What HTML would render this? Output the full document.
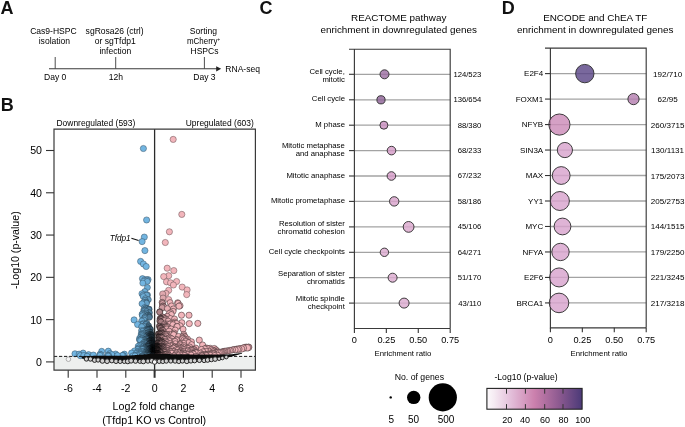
<!DOCTYPE html>
<html><head><meta charset="utf-8"><style>
html,body{margin:0;padding:0;background:#fff;}
svg{display:block;font-family:"Liberation Sans",sans-serif;}
svg{will-change:transform}
</style></head><body>
<svg width="685" height="427" viewBox="0 0 685 427">
<rect width="685" height="427" fill="#fff"/>
<defs><clipPath id="vclip"><rect x="54.0" y="129.1" width="201.4" height="241.1"/></clipPath></defs>
<text x="0.60" y="13.70" font-size="18" text-anchor="start" font-weight="bold" fill="#111">A</text>
<text x="0.70" y="111.10" font-size="18" text-anchor="start" font-weight="bold" fill="#111">B</text>
<text x="259.60" y="13.70" font-size="18" text-anchor="start" font-weight="bold" fill="#111">C</text>
<text x="501.80" y="13.70" font-size="18" text-anchor="start" font-weight="bold" fill="#111">D</text>
<text x="53.40" y="34.30" font-size="8.55" text-anchor="middle">Cas9-HSPC</text>
<text x="54.40" y="44.00" font-size="8.55" text-anchor="middle">isolation</text>
<text x="114.60" y="34.40" font-size="8.55" text-anchor="middle">sgRosa26 (ctrl)</text>
<text x="115.30" y="43.90" font-size="8.55" text-anchor="middle">or sgTfdp1</text>
<text x="115.30" y="53.60" font-size="8.55" text-anchor="middle">infection</text>
<text x="203.40" y="34.40" font-size="8.55" text-anchor="middle">Sorting</text>
<text x="187.0" y="43.9" font-size="8.55" textLength="30.4" lengthAdjust="spacingAndGlyphs">mCherry</text><text x="217.4" y="40.6" font-size="4.6">+</text>
<text x="204.50" y="53.60" font-size="8.55" text-anchor="middle">HSPCs</text>
<line x1="49.00" y1="68.80" x2="217.00" y2="68.80" stroke="#3a3a3a" stroke-width="1.05"/>
<path d="M216.2 66.2 L221.2 68.8 L216.2 71.4 Z" fill="#222"/>
<line x1="55.20" y1="57.00" x2="55.20" y2="68.80" stroke="#444" stroke-width="0.95"/>
<line x1="115.70" y1="57.00" x2="115.70" y2="68.80" stroke="#444" stroke-width="0.95"/>
<line x1="204.40" y1="57.00" x2="204.40" y2="68.80" stroke="#444" stroke-width="0.95"/>
<text x="225.30" y="71.70" font-size="8.55" text-anchor="start">RNA-seq</text>
<text x="55.20" y="80.30" font-size="8.55" text-anchor="middle">Day 0</text>
<text x="116.00" y="80.30" font-size="8.55" text-anchor="middle">12h</text>
<text x="204.40" y="80.00" font-size="8.55" text-anchor="middle">Day 3</text>
<text x="56.50" y="125.80" font-size="8.45" text-anchor="start">Downregulated (593)</text>
<text x="253.80" y="125.80" font-size="8.45" text-anchor="end">Upregulated (603)</text>
<rect x="54.0" y="356.40" width="201.4" height="13.80" fill="#edefee"/>
<line x1="154.60" y1="129.10" x2="154.60" y2="372.20" stroke="#2a2a2a" stroke-width="1.3"/>
<g stroke-width="0.55" clip-path="url(#vclip)"><circle cx="173.2" cy="139.4" r="3.1" fill="#f2b5bb" stroke="#6e5558"/><circle cx="143.4" cy="148.5" r="3.1" fill="#72b5e1" stroke="#3e5a6e"/><circle cx="181.8" cy="214.4" r="3.1" fill="#f2b5bb" stroke="#6e5558"/><circle cx="146.6" cy="220.0" r="3.1" fill="#72b5e1" stroke="#3e5a6e"/><circle cx="169.4" cy="231.8" r="3.1" fill="#f2b5bb" stroke="#6e5558"/><circle cx="144.3" cy="237.1" r="3.1" fill="#72b5e1" stroke="#3e5a6e"/><circle cx="142.1" cy="241.6" r="3.1" fill="#72b5e1" stroke="#3e5a6e"/><circle cx="165.3" cy="242.5" r="3.1" fill="#f2b5bb" stroke="#6e5558"/><circle cx="144.9" cy="250.6" r="3.1" fill="#72b5e1" stroke="#3e5a6e"/><circle cx="140.6" cy="261.4" r="3.1" fill="#72b5e1" stroke="#3e5a6e"/><circle cx="143.4" cy="264.0" r="3.1" fill="#72b5e1" stroke="#3e5a6e"/><circle cx="146.2" cy="266.5" r="3.1" fill="#72b5e1" stroke="#3e5a6e"/><circle cx="167.2" cy="268.2" r="3.1" fill="#f2b5bb" stroke="#6e5558"/><circle cx="173.8" cy="270.6" r="3.1" fill="#f2b5bb" stroke="#6e5558"/><circle cx="168.7" cy="275.7" r="3.1" fill="#f2b5bb" stroke="#6e5558"/><circle cx="163.7" cy="276.6" r="3.1" fill="#f2b5bb" stroke="#6e5558"/><circle cx="142.5" cy="278.7" r="3.1" fill="#72b5e1" stroke="#3e5a6e"/><circle cx="144.9" cy="279.6" r="3.0" fill="#72b5e1" stroke="#3e5a6e"/><circle cx="148.0" cy="279.6" r="3.1" fill="#6dadd7" stroke="#3b5568"/><circle cx="146.8" cy="279.9" r="3.0" fill="#6eafd9" stroke="#3b5669"/><circle cx="145.6" cy="280.7" r="3.0" fill="#6fb0db" stroke="#3c576a"/><circle cx="143.4" cy="281.3" r="3.0" fill="#72b5e1" stroke="#3e5a6e"/><circle cx="147.3" cy="281.4" r="3.0" fill="#6dadd7" stroke="#3b5568"/><circle cx="176.6" cy="281.5" r="3.1" fill="#f2b5bb" stroke="#6e5558"/><circle cx="166.5" cy="281.8" r="3.1" fill="#f2b5bb" stroke="#6e5558"/><circle cx="170.6" cy="282.8" r="3.1" fill="#f2b5bb" stroke="#6e5558"/><circle cx="142.8" cy="283.1" r="3.0" fill="#72b5e1" stroke="#3e5a6e"/><circle cx="173.4" cy="285.0" r="3.1" fill="#f2b5bb" stroke="#6e5558"/><circle cx="182.2" cy="287.1" r="3.1" fill="#f2b5bb" stroke="#6e5558"/><circle cx="147.4" cy="287.5" r="3.0" fill="#6baad3" stroke="#395365"/><circle cx="187.1" cy="289.9" r="3.1" fill="#f2b5bb" stroke="#6e5558"/><circle cx="168.7" cy="290.3" r="3.1" fill="#f2b5bb" stroke="#6e5558"/><circle cx="144.8" cy="291.5" r="3.0" fill="#6daed8" stroke="#3b5568"/><circle cx="165.9" cy="293.4" r="3.1" fill="#ebb0b5" stroke="#6a5255"/><circle cx="141.9" cy="293.7" r="3.0" fill="#72b5e1" stroke="#3e5a6e"/><circle cx="162.7" cy="294.0" r="3.1" fill="#e0a8ae" stroke="#644d50"/><circle cx="186.7" cy="294.6" r="3.1" fill="#f2b5bb" stroke="#6e5558"/><circle cx="145.5" cy="294.8" r="3.0" fill="#6baad3" stroke="#395366"/><circle cx="147.5" cy="295.0" r="3.0" fill="#68a4cc" stroke="#374f61"/><circle cx="143.1" cy="295.1" r="3.0" fill="#6fafda" stroke="#3c576a"/><circle cx="146.7" cy="295.2" r="3.0" fill="#69a7cf" stroke="#385163"/><circle cx="143.3" cy="296.6" r="3.0" fill="#6eafd9" stroke="#3b5669"/><circle cx="163.1" cy="298.1" r="3.1" fill="#dea7ac" stroke="#634c4f"/><circle cx="145.4" cy="298.7" r="3.0" fill="#6aa9d1" stroke="#395264"/><circle cx="168.7" cy="299.6" r="3.1" fill="#f2b5bb" stroke="#6e5558"/><circle cx="148.3" cy="299.7" r="3.0" fill="#639dc2" stroke="#334b5b"/><circle cx="145.2" cy="300.3" r="3.0" fill="#6aa8d1" stroke="#304c5f"/><circle cx="145.9" cy="301.9" r="3.0" fill="#68a5cd" stroke="#2f4a5c"/><circle cx="143.8" cy="302.3" r="3.0" fill="#6cacd5" stroke="#314e61"/><circle cx="162.2" cy="302.4" r="3.1" fill="#d5a0a5" stroke="#352729"/><circle cx="170.1" cy="302.6" r="3.0" fill="#f2b5bb" stroke="#3e2e30"/><circle cx="146.1" cy="302.7" r="3.0" fill="#67a3cb" stroke="#2e4a5b"/><circle cx="177.7" cy="302.8" r="3.1" fill="#f2b5bb" stroke="#3e2e30"/><circle cx="146.5" cy="303.2" r="3.0" fill="#66a1c8" stroke="#2e485a"/><circle cx="178.1" cy="303.4" r="3.1" fill="#f2b5bb" stroke="#3e2e30"/><circle cx="162.5" cy="303.5" r="3.0" fill="#d5a0a5" stroke="#352729"/><circle cx="142.0" cy="303.7" r="3.0" fill="#6fafda" stroke="#335164"/><circle cx="180.0" cy="305.7" r="3.1" fill="#f2b5bb" stroke="#3e2e30"/><circle cx="171.5" cy="305.9" r="3.0" fill="#f2b5bb" stroke="#3e2e30"/><circle cx="162.9" cy="305.9" r="3.0" fill="#d5a0a5" stroke="#352729"/><circle cx="179.0" cy="306.2" r="3.1" fill="#f2b5bb" stroke="#3e2e30"/><circle cx="162.6" cy="306.3" r="3.0" fill="#d39ea3" stroke="#342728"/><circle cx="164.2" cy="307.1" r="3.0" fill="#dca5aa" stroke="#37292a"/><circle cx="144.6" cy="307.6" r="3.0" fill="#69a6ce" stroke="#304b5d"/><circle cx="162.2" cy="307.7" r="3.1" fill="#ce9a9f" stroke="#322527"/><circle cx="146.0" cy="308.2" r="3.0" fill="#659fc5" stroke="#2d4758"/><circle cx="167.4" cy="308.6" r="3.0" fill="#e9afb4" stroke="#3b2c2e"/><circle cx="147.1" cy="308.7" r="3.0" fill="#6199bd" stroke="#2a4353"/><circle cx="173.4" cy="309.0" r="3.1" fill="#f2b5bb" stroke="#3e2e30"/><circle cx="149.1" cy="309.1" r="3.0" fill="#598cad" stroke="#263c4a"/><circle cx="148.8" cy="309.7" r="3.0" fill="#5a8daf" stroke="#263c4b"/><circle cx="143.8" cy="310.0" r="3.0" fill="#6aa8d1" stroke="#304c5e"/><circle cx="145.3" cy="310.2" r="3.0" fill="#66a1c8" stroke="#2e485a"/><circle cx="144.5" cy="310.5" r="3.0" fill="#68a5cd" stroke="#2f4a5c"/><circle cx="144.5" cy="311.1" r="3.0" fill="#68a4cc" stroke="#2f4a5c"/><circle cx="173.1" cy="311.3" r="3.0" fill="#f2b5bb" stroke="#3e2e30"/><circle cx="146.3" cy="311.6" r="3.0" fill="#629abf" stroke="#2b4454"/><circle cx="159.8" cy="311.7" r="3.0" fill="#b2858a" stroke="#291f20"/><circle cx="159.7" cy="312.2" r="3.0" fill="#af8488" stroke="#291e1f"/><circle cx="149.4" cy="312.7" r="3.0" fill="#5484a3" stroke="#233744"/><circle cx="170.6" cy="312.7" r="3.1" fill="#f2b5bb" stroke="#3e2e30"/><circle cx="146.1" cy="313.1" r="3.0" fill="#629abf" stroke="#2b4455"/><circle cx="142.7" cy="313.5" r="3.0" fill="#6cabd4" stroke="#314e60"/><circle cx="169.3" cy="313.5" r="3.0" fill="#f2b5bb" stroke="#3e2e30"/><circle cx="142.1" cy="314.3" r="3.0" fill="#6dacd6" stroke="#324f62"/><circle cx="171.3" cy="314.5" r="3.0" fill="#f2b5bb" stroke="#3e2e30"/><circle cx="144.3" cy="314.7" r="3.0" fill="#67a3cb" stroke="#2e4a5b"/><circle cx="146.3" cy="314.7" r="3.0" fill="#6098bc" stroke="#2a4353"/><circle cx="148.1" cy="315.2" r="3.0" fill="#5789aa" stroke="#253a48"/><circle cx="181.5" cy="315.2" r="3.1" fill="#f2b5bb" stroke="#3e2e30"/><circle cx="189.0" cy="315.2" r="3.1" fill="#f2b5bb" stroke="#3e2e30"/><circle cx="147.2" cy="315.8" r="3.0" fill="#5b90b2" stroke="#273e4d"/><circle cx="142.4" cy="315.8" r="3.0" fill="#6cabd4" stroke="#314e61"/><circle cx="149.3" cy="316.1" r="3.0" fill="#517e9c" stroke="#213440"/><circle cx="167.2" cy="316.3" r="3.0" fill="#e6acb2" stroke="#3a2b2d"/><circle cx="162.6" cy="316.9" r="3.0" fill="#c49398" stroke="#2f2324"/><circle cx="145.5" cy="317.2" r="3.0" fill="#629bc0" stroke="#2b4455"/><circle cx="144.9" cy="317.2" r="3.0" fill="#649ec5" stroke="#2d4757"/><circle cx="149.4" cy="317.3" r="3.0" fill="#4f7b98" stroke="#1f323e"/><circle cx="163.6" cy="317.6" r="3.0" fill="#cd9a9f" stroke="#322527"/><circle cx="160.7" cy="318.0" r="3.0" fill="#ad8286" stroke="#281e1f"/><circle cx="144.6" cy="318.5" r="3.0" fill="#659fc5" stroke="#2d4758"/><circle cx="170.4" cy="318.5" r="3.0" fill="#f2b5bb" stroke="#3e2e30"/><circle cx="161.4" cy="318.7" r="3.0" fill="#b4878b" stroke="#2a1f21"/><circle cx="160.1" cy="318.8" r="3.0" fill="#a47c80" stroke="#251b1d"/><circle cx="165.6" cy="318.8" r="3.0" fill="#dca4aa" stroke="#37292a"/><circle cx="164.4" cy="318.9" r="3.0" fill="#d29ea3" stroke="#342628"/><circle cx="174.5" cy="319.0" r="3.0" fill="#f2b5bb" stroke="#3e2e30"/><circle cx="161.3" cy="319.0" r="3.0" fill="#b2868a" stroke="#291f20"/><circle cx="160.9" cy="319.1" r="3.0" fill="#ad8286" stroke="#281e1f"/><circle cx="161.0" cy="319.5" r="3.0" fill="#ad8287" stroke="#281e1f"/><circle cx="134.1" cy="319.9" r="3.1" fill="#72b5e1" stroke="#355468"/><circle cx="143.9" cy="320.1" r="3.0" fill="#67a2c9" stroke="#2e495a"/><circle cx="164.3" cy="320.5" r="3.0" fill="#d09ca1" stroke="#332628"/><circle cx="159.8" cy="321.0" r="3.0" fill="#9b7579" stroke="#22191a"/><circle cx="141.7" cy="321.0" r="3.0" fill="#6cacd5" stroke="#314e61"/><circle cx="168.2" cy="321.1" r="3.0" fill="#e8aeb4" stroke="#3b2c2e"/><circle cx="160.9" cy="321.9" r="3.0" fill="#a77e82" stroke="#261c1d"/><circle cx="174.6" cy="322.0" r="3.0" fill="#f2b5bb" stroke="#3e2e30"/><circle cx="181.8" cy="322.7" r="3.1" fill="#f2b5bb" stroke="#3e2e30"/><circle cx="146.8" cy="323.3" r="3.0" fill="#588aaa" stroke="#253a48"/><circle cx="174.3" cy="323.3" r="3.0" fill="#f2b5bb" stroke="#3e2e30"/><circle cx="173.9" cy="323.3" r="3.0" fill="#f2b5bb" stroke="#3e2e30"/><circle cx="197.8" cy="323.4" r="3.1" fill="#f2b5bb" stroke="#3e2e30"/><circle cx="176.7" cy="323.5" r="3.0" fill="#f2b5bb" stroke="#3e2e30"/><circle cx="170.3" cy="323.6" r="3.0" fill="#f2b5bb" stroke="#3e2e30"/><circle cx="189.3" cy="323.6" r="3.1" fill="#f2b5bb" stroke="#3e2e30"/><circle cx="142.7" cy="323.8" r="3.0" fill="#69a7cf" stroke="#304b5d"/><circle cx="166.8" cy="323.9" r="3.0" fill="#e0a8ae" stroke="#382a2c"/><circle cx="164.5" cy="324.1" r="3.0" fill="#ce9a9f" stroke="#322527"/><circle cx="143.1" cy="324.1" r="3.0" fill="#68a4cc" stroke="#2f4a5c"/><circle cx="169.6" cy="324.3" r="3.0" fill="#f2b5bb" stroke="#3e2e30"/><circle cx="145.8" cy="324.5" r="3.0" fill="#5c91b4" stroke="#283f4e"/><circle cx="137.6" cy="324.5" r="3.1" fill="#72b5e1" stroke="#355468"/><circle cx="172.9" cy="324.7" r="3.0" fill="#f2b5bb" stroke="#3e2e30"/><circle cx="165.9" cy="325.8" r="3.0" fill="#d9a3a8" stroke="#36282a"/><circle cx="164.6" cy="325.8" r="3.0" fill="#cd9a9f" stroke="#322527"/><circle cx="180.0" cy="325.8" r="3.1" fill="#f2b5bb" stroke="#3e2e30"/><circle cx="148.6" cy="325.9" r="3.0" fill="#4a748f" stroke="#1d2e38"/><circle cx="159.4" cy="326.2" r="3.0" fill="#89676b" stroke="#1c1516"/><circle cx="143.5" cy="326.2" r="3.0" fill="#66a1c8" stroke="#2e485a"/><circle cx="176.7" cy="326.4" r="3.0" fill="#f2b5bb" stroke="#3e2e30"/><circle cx="177.2" cy="326.5" r="3.0" fill="#f2b5bb" stroke="#3e2e30"/><circle cx="167.4" cy="326.7" r="3.0" fill="#e3aaaf" stroke="#392a2c"/><circle cx="141.7" cy="326.7" r="3.0" fill="#6baad3" stroke="#314e60"/><circle cx="165.3" cy="326.9" r="3.0" fill="#d49fa4" stroke="#342729"/><circle cx="161.5" cy="327.3" r="3.0" fill="#a47c80" stroke="#251c1d"/><circle cx="164.2" cy="327.3" r="3.0" fill="#c8969b" stroke="#302426"/><circle cx="162.7" cy="327.4" r="3.0" fill="#b6888d" stroke="#2b2021"/><circle cx="148.4" cy="327.6" r="3.0" fill="#4a738e" stroke="#1d2d38"/><circle cx="167.0" cy="327.6" r="3.0" fill="#e0a8ad" stroke="#382a2c"/><circle cx="160.5" cy="327.8" r="3.0" fill="#947073" stroke="#201819"/><circle cx="161.1" cy="328.1" r="3.0" fill="#9e777b" stroke="#231a1b"/><circle cx="160.3" cy="328.3" r="3.0" fill="#916d71" stroke="#1f1718"/><circle cx="149.4" cy="328.7" r="3.0" fill="#43677f" stroke="#18262f"/><circle cx="166.9" cy="328.9" r="3.0" fill="#dfa7ac" stroke="#38292b"/><circle cx="171.0" cy="328.9" r="3.0" fill="#f2b5bb" stroke="#3e2e30"/><circle cx="150.4" cy="329.2" r="3.0" fill="#3b5b70" stroke="#131f26"/><circle cx="183.1" cy="329.2" r="3.0" fill="#f2b5bb" stroke="#3e2e30"/><circle cx="148.0" cy="329.5" r="3.0" fill="#4b7590" stroke="#1d2e39"/><circle cx="147.4" cy="329.7" r="3.0" fill="#4f7c99" stroke="#20323e"/><circle cx="175.2" cy="330.0" r="3.0" fill="#f2b5bb" stroke="#3e2e30"/><circle cx="161.7" cy="330.2" r="3.0" fill="#a27a7e" stroke="#241b1c"/><circle cx="147.2" cy="330.3" r="3.0" fill="#507d9b" stroke="#20333f"/><circle cx="144.8" cy="330.4" r="3.0" fill="#5f96ba" stroke="#294251"/><circle cx="162.9" cy="330.5" r="3.0" fill="#b4878c" stroke="#2a1f21"/><circle cx="147.6" cy="330.6" r="3.0" fill="#4d7895" stroke="#1e303c"/><circle cx="141.5" cy="330.7" r="3.0" fill="#6baad3" stroke="#314d60"/><circle cx="169.1" cy="331.1" r="3.0" fill="#e9aeb4" stroke="#3b2c2e"/><circle cx="142.9" cy="331.2" r="3.0" fill="#67a3ca" stroke="#2e495b"/><circle cx="146.3" cy="331.6" r="3.0" fill="#5586a6" stroke="#243846"/><circle cx="161.4" cy="331.8" r="3.0" fill="#9b7578" stroke="#22191a"/><circle cx="150.6" cy="332.4" r="3.0" fill="#365265" stroke="#101a20"/><circle cx="147.6" cy="332.8" r="3.0" fill="#4c7691" stroke="#1d2f3a"/><circle cx="161.8" cy="333.0" r="3.0" fill="#a0787c" stroke="#241a1c"/><circle cx="174.2" cy="333.0" r="3.0" fill="#f2b5bb" stroke="#3e2e30"/><circle cx="147.2" cy="333.3" r="3.0" fill="#4e7a97" stroke="#1f313d"/><circle cx="142.6" cy="333.5" r="3.0" fill="#67a4cb" stroke="#2f4a5b"/><circle cx="162.0" cy="333.6" r="3.0" fill="#a27a7e" stroke="#241b1c"/><circle cx="161.8" cy="333.7" r="3.0" fill="#9e777b" stroke="#231a1b"/><circle cx="159.4" cy="333.7" r="3.0" fill="#75595c" stroke="#161011"/><circle cx="158.4" cy="334.0" r="3.0" fill="#654d4f" stroke="#110c0d"/><circle cx="141.2" cy="334.1" r="3.0" fill="#6baad4" stroke="#314e60"/><circle cx="142.2" cy="334.2" r="3.0" fill="#69a6ce" stroke="#2f4b5d"/><circle cx="183.8" cy="334.3" r="3.0" fill="#f2b5bb" stroke="#3e2e30"/><circle cx="150.5" cy="334.3" r="3.0" fill="#345062" stroke="#0f181e"/><circle cx="173.8" cy="334.3" r="3.0" fill="#f2b5bb" stroke="#3e2e30"/><circle cx="160.4" cy="334.3" r="3.0" fill="#866568" stroke="#1b1415"/><circle cx="169.6" cy="334.4" r="3.0" fill="#eaafb5" stroke="#3c2c2e"/><circle cx="167.2" cy="334.4" r="3.0" fill="#dfa7ac" stroke="#38292b"/><circle cx="148.2" cy="334.6" r="3.0" fill="#466c85" stroke="#1a2933"/><circle cx="173.7" cy="334.7" r="3.0" fill="#f2b5bb" stroke="#3e2e30"/><circle cx="150.7" cy="334.7" r="3.0" fill="#334d5e" stroke="#0e171c"/><circle cx="166.0" cy="334.8" r="3.0" fill="#d59fa5" stroke="#352729"/><circle cx="148.5" cy="334.8" r="3.0" fill="#436881" stroke="#182730"/><circle cx="141.5" cy="334.8" r="3.0" fill="#6ba9d2" stroke="#314d5f"/><circle cx="142.3" cy="335.2" r="3.0" fill="#68a5cd" stroke="#2f4b5c"/><circle cx="151.0" cy="335.2" r="3.0" fill="#304959" stroke="#0d1419"/><circle cx="149.6" cy="335.3" r="3.0" fill="#3a586c" stroke="#131d24"/><circle cx="150.9" cy="335.4" r="3.0" fill="#304959" stroke="#0d1419"/><circle cx="183.7" cy="335.8" r="3.0" fill="#f2b5bb" stroke="#3e2e30"/><circle cx="159.8" cy="336.0" r="3.0" fill="#775a5d" stroke="#171111"/><circle cx="166.1" cy="336.0" r="3.0" fill="#d5a0a5" stroke="#352729"/><circle cx="150.3" cy="336.4" r="3.0" fill="#344e60" stroke="#0f181d"/><circle cx="178.5" cy="336.4" r="3.0" fill="#f2b5bb" stroke="#3e2e30"/><circle cx="150.8" cy="336.6" r="3.0" fill="#304858" stroke="#0c1418"/><circle cx="182.8" cy="336.7" r="3.0" fill="#f2b5bb" stroke="#3e2e30"/><circle cx="144.0" cy="336.7" r="3.0" fill="#6199bd" stroke="#2a4353"/><circle cx="142.2" cy="336.7" r="3.0" fill="#68a5cd" stroke="#2f4b5c"/><circle cx="148.7" cy="336.8" r="3.0" fill="#406279" stroke="#16232c"/><circle cx="150.3" cy="336.8" r="3.0" fill="#334d5f" stroke="#0e171c"/><circle cx="185.1" cy="336.9" r="3.0" fill="#f2b5bb" stroke="#3e2e30"/><circle cx="148.9" cy="337.2" r="3.0" fill="#3e5f75" stroke="#152129"/><circle cx="158.7" cy="337.2" r="3.0" fill="#614a4c" stroke="#0f0b0c"/><circle cx="149.9" cy="337.4" r="3.0" fill="#355163" stroke="#10191f"/><circle cx="158.9" cy="337.4" r="3.0" fill="#644c4e" stroke="#100c0d"/><circle cx="150.9" cy="337.5" r="3.0" fill="#2e4554" stroke="#0b1216"/><circle cx="165.0" cy="337.7" r="3.0" fill="#c9979c" stroke="#312426"/><circle cx="151.2" cy="337.7" r="3.0" fill="#2c4250" stroke="#0a1014"/><circle cx="160.6" cy="337.8" r="3.0" fill="#816265" stroke="#1a1314"/><circle cx="141.6" cy="337.9" r="3.0" fill="#6aa8d0" stroke="#304c5e"/><circle cx="162.5" cy="337.9" r="3.0" fill="#a47b7f" stroke="#251b1d"/><circle cx="144.8" cy="337.9" r="3.0" fill="#5c91b4" stroke="#283f4e"/><circle cx="182.9" cy="337.9" r="3.0" fill="#f2b5bb" stroke="#3e2e30"/><circle cx="168.9" cy="338.0" r="3.0" fill="#e7adb3" stroke="#3b2b2d"/><circle cx="139.7" cy="338.1" r="3.0" fill="#6eafd9" stroke="#335063"/><circle cx="170.8" cy="338.2" r="3.0" fill="#f2b5bb" stroke="#3e2e30"/><circle cx="142.1" cy="338.3" r="3.0" fill="#68a5cd" stroke="#2f4b5d"/><circle cx="150.9" cy="338.5" r="3.0" fill="#2d4453" stroke="#0b1116"/><circle cx="184.3" cy="338.5" r="3.0" fill="#f2b5bb" stroke="#3e2e30"/><circle cx="150.0" cy="338.8" r="3.0" fill="#334e5f" stroke="#0f171d"/><circle cx="182.7" cy="338.8" r="3.0" fill="#f2b5bb" stroke="#3e2e30"/><circle cx="171.9" cy="338.9" r="3.0" fill="#f2b5bb" stroke="#3e2e30"/><circle cx="187.6" cy="339.1" r="3.0" fill="#f2b5bb" stroke="#3e2e30"/><circle cx="146.1" cy="339.1" r="3.0" fill="#5383a2" stroke="#223643"/><circle cx="167.3" cy="339.3" r="3.0" fill="#dea6ab" stroke="#37292b"/><circle cx="150.7" cy="339.3" r="3.0" fill="#2e4554" stroke="#0b1216"/><circle cx="143.5" cy="339.4" r="3.0" fill="#639cc1" stroke="#2c4556"/><circle cx="164.9" cy="339.4" r="3.0" fill="#c7959a" stroke="#302425"/><circle cx="139.6" cy="339.5" r="3.0" fill="#6eafd9" stroke="#335063"/><circle cx="147.7" cy="339.5" r="3.0" fill="#466d87" stroke="#1a2a34"/><circle cx="176.8" cy="339.5" r="3.0" fill="#f2b5bb" stroke="#3e2e30"/><circle cx="140.6" cy="339.6" r="3.0" fill="#6cacd5" stroke="#324e61"/><circle cx="186.1" cy="339.6" r="3.0" fill="#f2b5bb" stroke="#3e2e30"/><circle cx="150.9" cy="339.7" r="3.0" fill="#2b414f" stroke="#0a1013"/><circle cx="184.1" cy="339.8" r="3.0" fill="#f2b5bb" stroke="#3e2e30"/><circle cx="158.7" cy="339.9" r="3.0" fill="#5b4648" stroke="#0e0a0b"/><circle cx="144.4" cy="339.9" r="3.0" fill="#5e94b8" stroke="#294150"/><circle cx="145.0" cy="340.1" r="3.0" fill="#5a8eb0" stroke="#263d4b"/><circle cx="140.2" cy="340.1" r="3.0" fill="#6dadd7" stroke="#324f62"/><circle cx="199.3" cy="340.1" r="3.1" fill="#f2b5bb" stroke="#3e2e30"/><circle cx="139.7" cy="340.1" r="3.0" fill="#6eafd9" stroke="#335063"/><circle cx="176.5" cy="340.1" r="3.0" fill="#f2b5bb" stroke="#3e2e30"/><circle cx="144.9" cy="340.3" r="3.0" fill="#5b8fb1" stroke="#273d4c"/><circle cx="151.4" cy="340.4" r="3.0" fill="#283b47" stroke="#080c0f"/><circle cx="151.4" cy="340.5" r="3.0" fill="#283b47" stroke="#080c0f"/><circle cx="140.6" cy="340.6" r="3.0" fill="#6cacd5" stroke="#314e61"/><circle cx="151.4" cy="340.7" r="3.0" fill="#283b47" stroke="#080c0f"/><circle cx="170.6" cy="340.8" r="3.0" fill="#f2b5bb" stroke="#3e2e30"/><circle cx="150.7" cy="340.8" r="3.0" fill="#2c4250" stroke="#0a1014"/><circle cx="169.2" cy="340.8" r="3.0" fill="#e8adb3" stroke="#3b2c2d"/><circle cx="185.5" cy="340.9" r="3.0" fill="#f2b5bb" stroke="#3e2e30"/><circle cx="162.1" cy="340.9" r="3.0" fill="#997477" stroke="#22191a"/><circle cx="174.5" cy="341.3" r="3.0" fill="#f2b5bb" stroke="#3e2e30"/><circle cx="149.2" cy="341.3" r="3.0" fill="#38566a" stroke="#121c23"/><circle cx="145.4" cy="341.4" r="3.0" fill="#5788a9" stroke="#243a47"/><circle cx="161.6" cy="341.5" r="3.0" fill="#8f6c70" stroke="#1e1718"/><circle cx="149.6" cy="341.5" r="3.0" fill="#355062" stroke="#10191e"/><circle cx="175.1" cy="341.5" r="3.0" fill="#f2b5bb" stroke="#3e2e30"/><circle cx="151.2" cy="341.6" r="3.0" fill="#283b47" stroke="#080c0f"/><circle cx="185.8" cy="341.6" r="3.0" fill="#f2b5bb" stroke="#3e2e30"/><circle cx="160.3" cy="341.6" r="3.0" fill="#775a5d" stroke="#161111"/><circle cx="166.0" cy="341.7" r="3.0" fill="#d19da2" stroke="#342628"/><circle cx="149.6" cy="341.7" r="3.0" fill="#355062" stroke="#0f181e"/><circle cx="147.7" cy="341.8" r="3.0" fill="#456b84" stroke="#1a2832"/><circle cx="191.4" cy="341.8" r="3.1" fill="#f2b5bb" stroke="#3e2e30"/><circle cx="148.2" cy="341.8" r="3.0" fill="#40637a" stroke="#17242c"/><circle cx="146.3" cy="341.9" r="3.0" fill="#507e9b" stroke="#203340"/><circle cx="148.4" cy="342.0" r="3.0" fill="#3f6178" stroke="#16232b"/><circle cx="151.5" cy="342.0" r="3.0" fill="#253742" stroke="#060a0c"/><circle cx="151.3" cy="342.1" r="3.0" fill="#273a46" stroke="#070b0e"/><circle cx="161.5" cy="342.2" r="3.0" fill="#8c6a6d" stroke="#1d1617"/><circle cx="151.1" cy="342.2" r="3.0" fill="#283b48" stroke="#080c0f"/><circle cx="161.5" cy="342.5" r="3.0" fill="#8d6a6e" stroke="#1e1617"/><circle cx="167.1" cy="342.6" r="3.0" fill="#dba4aa" stroke="#37292a"/><circle cx="148.9" cy="342.6" r="3.0" fill="#3a596d" stroke="#131e25"/><circle cx="143.8" cy="342.7" r="3.0" fill="#6098bc" stroke="#2a4353"/><circle cx="188.6" cy="342.7" r="3.0" fill="#f2b5bb" stroke="#3e2e30"/><circle cx="150.4" cy="342.9" r="3.0" fill="#2d4352" stroke="#0b1115"/><circle cx="157.6" cy="343.0" r="3.0" fill="#443536" stroke="#060505"/><circle cx="162.9" cy="343.0" r="3.0" fill="#a67d81" stroke="#261c1d"/><circle cx="151.6" cy="343.2" r="3.0" fill="#24353f" stroke="#05080a"/><circle cx="163.3" cy="343.2" r="3.0" fill="#ad8286" stroke="#281e1f"/><circle cx="183.8" cy="343.3" r="3.0" fill="#f2b5bb" stroke="#3e2e30"/><circle cx="151.6" cy="343.3" r="3.0" fill="#24343f" stroke="#05080a"/><circle cx="145.0" cy="343.5" r="3.0" fill="#598cae" stroke="#263c4a"/><circle cx="170.1" cy="343.6" r="3.0" fill="#ebb0b6" stroke="#3c2c2e"/><circle cx="175.3" cy="343.7" r="3.0" fill="#f2b5bb" stroke="#3e2e30"/><circle cx="161.4" cy="343.8" r="3.0" fill="#88676a" stroke="#1c1516"/><circle cx="151.6" cy="343.9" r="3.0" fill="#23333e" stroke="#050709"/><circle cx="180.1" cy="343.9" r="3.0" fill="#f2b5bb" stroke="#3e2e30"/><circle cx="151.6" cy="344.0" r="3.0" fill="#23333e" stroke="#050709"/><circle cx="150.5" cy="344.0" r="3.0" fill="#2b414f" stroke="#0a1013"/><circle cx="149.2" cy="344.0" r="3.0" fill="#375366" stroke="#111b21"/><circle cx="150.5" cy="344.1" r="3.0" fill="#2b404e" stroke="#090f13"/><circle cx="165.3" cy="344.1" r="3.0" fill="#c9979c" stroke="#312426"/><circle cx="143.9" cy="344.3" r="3.0" fill="#6097bb" stroke="#2a4252"/><circle cx="142.5" cy="344.5" r="3.0" fill="#66a1c8" stroke="#2e485a"/><circle cx="150.1" cy="344.6" r="3.0" fill="#2e4554" stroke="#0b1216"/><circle cx="149.9" cy="344.6" r="3.0" fill="#304858" stroke="#0c1418"/><circle cx="191.6" cy="344.6" r="3.0" fill="#f2b5bb" stroke="#3e2e30"/><circle cx="163.6" cy="344.8" r="3.0" fill="#b08489" stroke="#291e20"/><circle cx="166.2" cy="344.9" r="3.0" fill="#d39ea3" stroke="#342728"/><circle cx="180.0" cy="344.9" r="3.0" fill="#f2b5bb" stroke="#3e2e30"/><circle cx="151.5" cy="344.9" r="3.0" fill="#23333e" stroke="#050709"/><circle cx="202.6" cy="345.0" r="3.1" fill="#f2b5bb" stroke="#3e2e30"/><circle cx="140.8" cy="345.0" r="3.0" fill="#6caad4" stroke="#314e60"/><circle cx="148.0" cy="345.1" r="3.0" fill="#41647b" stroke="#17242d"/><circle cx="151.6" cy="345.2" r="3.0" fill="#22323c" stroke="#040608"/><circle cx="171.9" cy="345.2" r="3.0" fill="#f2b5bb" stroke="#3e2e30"/><circle cx="151.0" cy="345.3" r="3.0" fill="#263844" stroke="#070b0d"/><circle cx="140.6" cy="345.3" r="3.0" fill="#6cabd5" stroke="#314e61"/><circle cx="142.6" cy="345.3" r="3.0" fill="#66a1c8" stroke="#2d4859"/><circle cx="184.1" cy="345.5" r="3.0" fill="#f2b5bb" stroke="#3e2e30"/><circle cx="170.9" cy="345.6" r="3.0" fill="#f2b5bb" stroke="#3e2e30"/><circle cx="139.6" cy="345.7" r="3.0" fill="#6eaed9" stroke="#335063"/><circle cx="148.5" cy="345.8" r="3.0" fill="#3c5c71" stroke="#142027"/><circle cx="157.3" cy="345.9" r="3.0" fill="#3b2e2f" stroke="#030203"/><circle cx="144.1" cy="346.0" r="3.0" fill="#5e95b8" stroke="#294150"/><circle cx="171.5" cy="346.1" r="3.0" fill="#f2b5bb" stroke="#3e2e30"/><circle cx="138.2" cy="346.2" r="3.0" fill="#72b5e1" stroke="#355468"/><circle cx="150.0" cy="346.2" r="3.0" fill="#2e4554" stroke="#0b1216"/><circle cx="178.4" cy="346.3" r="3.0" fill="#f2b5bb" stroke="#3e2e30"/><circle cx="151.2" cy="346.3" r="3.0" fill="#243540" stroke="#05080a"/><circle cx="162.6" cy="346.3" r="3.0" fill="#9e777b" stroke="#231a1b"/><circle cx="151.8" cy="346.3" r="3.0" fill="#202f38" stroke="#030506"/><circle cx="145.8" cy="346.4" r="3.0" fill="#5281a0" stroke="#223542"/><circle cx="151.4" cy="346.5" r="3.0" fill="#23333d" stroke="#050709"/><circle cx="157.3" cy="346.5" r="3.0" fill="#392d2e" stroke="#030202"/><circle cx="147.2" cy="346.5" r="3.0" fill="#476f89" stroke="#1b2b35"/><circle cx="159.0" cy="346.5" r="3.0" fill="#554143" stroke="#0c0909"/><circle cx="174.9" cy="346.5" r="3.0" fill="#f2b5bb" stroke="#3e2e30"/><circle cx="166.8" cy="346.6" r="3.0" fill="#d8a2a7" stroke="#36282a"/><circle cx="165.1" cy="346.6" r="3.0" fill="#c69499" stroke="#302325"/><circle cx="145.6" cy="346.6" r="3.0" fill="#5484a4" stroke="#233745"/><circle cx="147.2" cy="346.6" r="3.0" fill="#476e87" stroke="#1a2a34"/><circle cx="150.1" cy="346.6" r="3.0" fill="#2d4351" stroke="#0b1115"/><circle cx="168.3" cy="346.6" r="3.0" fill="#e3aaaf" stroke="#392a2c"/><circle cx="147.4" cy="346.7" r="3.0" fill="#456c85" stroke="#1a2933"/><circle cx="163.8" cy="346.8" r="3.0" fill="#b2868a" stroke="#2a1f20"/><circle cx="148.1" cy="346.8" r="3.0" fill="#3f6178" stroke="#16232b"/><circle cx="162.7" cy="346.8" r="3.0" fill="#a0787c" stroke="#241a1c"/><circle cx="183.1" cy="346.9" r="3.0" fill="#f2b5bb" stroke="#3e2e30"/><circle cx="147.8" cy="346.9" r="3.0" fill="#42657d" stroke="#17252e"/><circle cx="157.6" cy="347.0" r="3.0" fill="#3d3031" stroke="#040303"/><circle cx="189.7" cy="347.0" r="3.0" fill="#f2b5bb" stroke="#3e2e30"/><circle cx="161.3" cy="347.0" r="3.0" fill="#856467" stroke="#1b1415"/><circle cx="163.1" cy="347.1" r="3.0" fill="#a77e82" stroke="#261c1d"/><circle cx="147.6" cy="347.1" r="3.0" fill="#436880" stroke="#18262f"/><circle cx="248.8" cy="347.1" r="3.1" fill="#f2b5bb" stroke="#3e2e30"/><circle cx="185.2" cy="347.1" r="3.0" fill="#f2b5bb" stroke="#3e2e30"/><circle cx="174.8" cy="347.2" r="3.0" fill="#f2b5bb" stroke="#3e2e30"/><circle cx="246.2" cy="347.3" r="3.3" fill="#f2b5bb" stroke="#3e2e30"/><circle cx="152.0" cy="347.4" r="3.0" fill="#1e2b33" stroke="#020203"/><circle cx="158.0" cy="347.4" r="3.0" fill="#433436" stroke="#060405"/><circle cx="164.0" cy="347.4" r="3.0" fill="#b5888d" stroke="#2b2021"/><circle cx="248.3" cy="347.5" r="3.3" fill="#f2b5bb" stroke="#3e2e30"/><circle cx="151.6" cy="347.5" r="3.0" fill="#202f38" stroke="#030506"/><circle cx="177.1" cy="347.6" r="3.0" fill="#f2b5bb" stroke="#3e2e30"/><circle cx="244.6" cy="347.7" r="3.3" fill="#f2b5bb" stroke="#3e2e30"/><circle cx="179.6" cy="347.7" r="3.0" fill="#f2b5bb" stroke="#3e2e30"/><circle cx="246.0" cy="347.8" r="3.1" fill="#f2b5bb" stroke="#3e2e30"/><circle cx="247.4" cy="347.8" r="3.3" fill="#f2b5bb" stroke="#3e2e30"/><circle cx="162.7" cy="347.8" r="3.0" fill="#9f787c" stroke="#231a1b"/><circle cx="176.6" cy="347.8" r="3.0" fill="#f2b5bb" stroke="#3e2e30"/><circle cx="138.6" cy="347.9" r="3.0" fill="#72b5e1" stroke="#355468"/><circle cx="145.7" cy="347.9" r="3.0" fill="#5382a1" stroke="#223643"/><circle cx="187.2" cy="348.0" r="3.0" fill="#f2b5bb" stroke="#3e2e30"/><circle cx="175.8" cy="348.0" r="3.0" fill="#f2b5bb" stroke="#3e2e30"/><circle cx="157.7" cy="348.0" r="3.0" fill="#3d2f31" stroke="#040303"/><circle cx="138.9" cy="348.0" r="3.0" fill="#6fb0db" stroke="#335164"/><circle cx="173.2" cy="348.0" r="3.0" fill="#f2b5bb" stroke="#3e2e30"/><circle cx="206.1" cy="348.0" r="3.0" fill="#f2b5bb" stroke="#3e2e30"/><circle cx="159.3" cy="348.1" r="3.0" fill="#5a4547" stroke="#0d0a0a"/><circle cx="195.9" cy="348.1" r="3.0" fill="#f2b5bb" stroke="#3e2e30"/><circle cx="163.4" cy="348.1" r="3.0" fill="#ac8186" stroke="#281d1f"/><circle cx="181.7" cy="348.1" r="3.0" fill="#f2b5bb" stroke="#3e2e30"/><circle cx="243.3" cy="348.1" r="3.3" fill="#f2b5bb" stroke="#3e2e30"/><circle cx="152.1" cy="348.1" r="3.0" fill="#1d2931" stroke="#010202"/><circle cx="167.5" cy="348.1" r="3.0" fill="#dda6ab" stroke="#37292b"/><circle cx="151.8" cy="348.2" r="3.0" fill="#1f2c35" stroke="#020304"/><circle cx="207.2" cy="348.2" r="3.0" fill="#f2b5bb" stroke="#3e2e30"/><circle cx="152.1" cy="348.2" r="3.0" fill="#1d2931" stroke="#010102"/><circle cx="173.6" cy="348.2" r="3.0" fill="#f2b5bb" stroke="#3e2e30"/><circle cx="145.2" cy="348.2" r="3.0" fill="#5788a9" stroke="#243a47"/><circle cx="210.2" cy="348.2" r="3.0" fill="#f2b5bb" stroke="#3e2e30"/><circle cx="147.5" cy="348.2" r="3.0" fill="#446a82" stroke="#192831"/><circle cx="151.9" cy="348.4" r="3.0" fill="#1e2b34" stroke="#020303"/><circle cx="147.4" cy="348.4" r="3.0" fill="#456b83" stroke="#192832"/><circle cx="188.0" cy="348.5" r="3.0" fill="#f2b5bb" stroke="#3e2e30"/><circle cx="214.3" cy="348.5" r="3.1" fill="#f2b5bb" stroke="#3e2e30"/><circle cx="186.9" cy="348.5" r="3.0" fill="#f2b5bb" stroke="#3e2e30"/><circle cx="141.2" cy="348.5" r="3.0" fill="#6aa8d1" stroke="#304d5f"/><circle cx="160.8" cy="348.5" r="3.0" fill="#775b5d" stroke="#171112"/><circle cx="188.6" cy="348.6" r="3.0" fill="#f2b5bb" stroke="#3e2e30"/><circle cx="178.5" cy="348.6" r="3.0" fill="#f2b5bb" stroke="#3e2e30"/><circle cx="167.2" cy="348.6" r="3.0" fill="#dba4aa" stroke="#37292a"/><circle cx="208.5" cy="348.8" r="3.0" fill="#f2b5bb" stroke="#3e2e30"/><circle cx="204.5" cy="348.8" r="3.0" fill="#f2b5bb" stroke="#3e2e30"/><circle cx="240.1" cy="348.8" r="3.3" fill="#f2b5bb" stroke="#3e2e30"/><circle cx="149.7" cy="348.8" r="3.0" fill="#2f4756" stroke="#0c1318"/><circle cx="180.8" cy="348.8" r="3.0" fill="#f2b5bb" stroke="#3e2e30"/><circle cx="149.3" cy="348.9" r="3.0" fill="#334d5f" stroke="#0e171c"/><circle cx="241.5" cy="348.9" r="3.3" fill="#f2b5bb" stroke="#3e2e30"/><circle cx="157.2" cy="349.0" r="3.0" fill="#34292a" stroke="#010101"/><circle cx="150.4" cy="349.0" r="3.0" fill="#293d4a" stroke="#080d10"/><circle cx="152.1" cy="349.0" r="3.0" fill="#1c2830" stroke="#010101"/><circle cx="236.7" cy="349.0" r="3.0" fill="#f2b5bb" stroke="#3e2e30"/><circle cx="164.2" cy="349.0" r="3.0" fill="#b88a8f" stroke="#2b2022"/><circle cx="161.8" cy="349.1" r="3.0" fill="#8c6a6d" stroke="#1d1617"/><circle cx="182.3" cy="349.1" r="3.0" fill="#f2b5bb" stroke="#3e2e30"/><circle cx="159.8" cy="349.1" r="3.0" fill="#634b4e" stroke="#100c0c"/><circle cx="238.8" cy="349.1" r="3.3" fill="#f2b5bb" stroke="#3e2e30"/><circle cx="147.5" cy="349.2" r="3.0" fill="#446981" stroke="#192730"/><circle cx="139.1" cy="349.2" r="3.0" fill="#6fb0da" stroke="#335164"/><circle cx="149.1" cy="349.2" r="3.0" fill="#355163" stroke="#10191f"/><circle cx="157.4" cy="349.2" r="3.0" fill="#382c2d" stroke="#020202"/><circle cx="143.0" cy="349.3" r="3.0" fill="#649dc3" stroke="#2c4657"/><circle cx="152.2" cy="349.3" r="3.0" fill="#1c272e" stroke="#000000"/><circle cx="145.5" cy="349.4" r="3.0" fill="#5484a3" stroke="#233744"/><circle cx="141.0" cy="349.4" r="3.0" fill="#6ba9d2" stroke="#314d5f"/><circle cx="191.5" cy="349.4" r="3.0" fill="#f2b5bb" stroke="#3e2e30"/><circle cx="171.3" cy="349.4" r="3.0" fill="#f2b5bb" stroke="#3e2e30"/><circle cx="201.4" cy="349.4" r="3.0" fill="#f2b5bb" stroke="#3e2e30"/><circle cx="194.0" cy="349.4" r="3.0" fill="#f2b5bb" stroke="#3e2e30"/><circle cx="142.7" cy="349.4" r="3.0" fill="#65a0c6" stroke="#2d4758"/><circle cx="237.6" cy="349.4" r="3.0" fill="#f2b5bb" stroke="#3e2e30"/><circle cx="234.1" cy="349.4" r="3.0" fill="#f2b5bb" stroke="#3e2e30"/><circle cx="152.2" cy="349.5" r="3.0" fill="#1b272e" stroke="#000000"/><circle cx="142.4" cy="349.5" r="3.0" fill="#66a1c8" stroke="#2e485a"/><circle cx="184.0" cy="349.5" r="3.0" fill="#f2b5bb" stroke="#3e2e30"/><circle cx="211.2" cy="349.6" r="3.0" fill="#f2b5bb" stroke="#3e2e30"/><circle cx="151.2" cy="349.6" r="3.0" fill="#22323c" stroke="#040708"/><circle cx="137.5" cy="349.7" r="3.0" fill="#72b5e1" stroke="#355468"/><circle cx="177.5" cy="349.7" r="3.0" fill="#f2b5bb" stroke="#3e2e30"/><circle cx="176.4" cy="349.7" r="3.0" fill="#f2b5bb" stroke="#3e2e30"/><circle cx="235.2" cy="349.8" r="3.0" fill="#f2b5bb" stroke="#3e2e30"/><circle cx="152.0" cy="349.8" r="3.0" fill="#1d2931" stroke="#010102"/><circle cx="148.5" cy="349.8" r="3.0" fill="#3a596e" stroke="#131e25"/><circle cx="232.6" cy="349.8" r="3.0" fill="#f2b5bb" stroke="#3e2e30"/><circle cx="157.7" cy="349.8" r="3.0" fill="#3b2e2f" stroke="#030203"/><circle cx="149.1" cy="349.8" r="3.0" fill="#344f61" stroke="#0f181e"/><circle cx="148.2" cy="349.8" r="3.0" fill="#3c5d72" stroke="#142028"/><circle cx="216.0" cy="349.9" r="3.0" fill="#f2b5bb" stroke="#3e2e30"/><circle cx="148.3" cy="349.9" r="3.0" fill="#3c5d72" stroke="#142028"/><circle cx="193.5" cy="350.0" r="3.0" fill="#f2b5bb" stroke="#3e2e30"/><circle cx="148.5" cy="350.0" r="3.0" fill="#3a596d" stroke="#131e25"/><circle cx="152.3" cy="350.0" r="3.0" fill="#1b262d" stroke="#000000"/><circle cx="178.1" cy="350.1" r="3.0" fill="#f2b5bb" stroke="#3e2e30"/><circle cx="194.6" cy="350.1" r="3.0" fill="#f2b5bb" stroke="#3e2e30"/><circle cx="152.3" cy="350.2" r="3.0" fill="#1b262d" stroke="#000000"/><circle cx="152.3" cy="350.2" r="3.0" fill="#1b262d" stroke="#000000"/><circle cx="151.0" cy="350.2" r="3.0" fill="#23333e" stroke="#050809"/><circle cx="213.0" cy="350.3" r="3.0" fill="#f2b5bb" stroke="#3e2e30"/><circle cx="230.8" cy="350.3" r="3.0" fill="#f2b5bb" stroke="#3e2e30"/><circle cx="166.7" cy="350.3" r="3.0" fill="#d6a1a6" stroke="#352729"/><circle cx="190.3" cy="350.3" r="3.0" fill="#f2b5bb" stroke="#3e2e30"/><circle cx="163.8" cy="350.3" r="3.0" fill="#b1858a" stroke="#291f20"/><circle cx="187.6" cy="350.4" r="3.0" fill="#f2b5bb" stroke="#3e2e30"/><circle cx="229.4" cy="350.4" r="3.0" fill="#f2b5bb" stroke="#3e2e30"/><circle cx="151.7" cy="350.4" r="3.0" fill="#1e2b34" stroke="#020304"/><circle cx="169.7" cy="350.4" r="3.0" fill="#e9aeb4" stroke="#3b2c2e"/><circle cx="192.2" cy="350.5" r="3.0" fill="#f2b5bb" stroke="#3e2e30"/><circle cx="149.5" cy="350.5" r="3.0" fill="#304959" stroke="#0d1419"/><circle cx="146.3" cy="350.5" r="3.0" fill="#4d7996" stroke="#1f313c"/><circle cx="157.5" cy="350.7" r="3.0" fill="#382c2d" stroke="#020202"/><circle cx="181.2" cy="350.8" r="3.0" fill="#f2b5bb" stroke="#3e2e30"/><circle cx="150.8" cy="350.8" r="3.0" fill="#253641" stroke="#06090b"/><circle cx="167.6" cy="350.8" r="3.0" fill="#dea6ac" stroke="#38292b"/><circle cx="227.7" cy="350.9" r="3.0" fill="#f2b5bb" stroke="#3e2e30"/><circle cx="134.5" cy="350.9" r="3.0" fill="#72b5e1" stroke="#355468"/><circle cx="152.4" cy="350.9" r="3.0" fill="#1a242a" stroke="#000000"/><circle cx="152.4" cy="351.0" r="3.0" fill="#1a242b" stroke="#000000"/><circle cx="184.3" cy="351.0" r="3.0" fill="#f2b5bb" stroke="#3e2e30"/><circle cx="152.4" cy="351.0" r="3.0" fill="#1a242a" stroke="#000000"/><circle cx="180.9" cy="351.0" r="3.0" fill="#f2b5bb" stroke="#3e2e30"/><circle cx="151.1" cy="351.0" r="3.0" fill="#22323c" stroke="#040708"/><circle cx="164.5" cy="351.0" r="3.0" fill="#bc8d92" stroke="#2d2123"/><circle cx="158.4" cy="351.0" r="3.0" fill="#453637" stroke="#070505"/><circle cx="226.5" cy="351.0" r="3.0" fill="#f2b5bb" stroke="#3e2e30"/><circle cx="225.0" cy="351.1" r="3.0" fill="#f2b5bb" stroke="#3e2e30"/><circle cx="157.2" cy="351.1" r="3.0" fill="#332829" stroke="#010101"/><circle cx="214.5" cy="351.1" r="3.0" fill="#f2b5bb" stroke="#3e2e30"/><circle cx="108.3" cy="351.2" r="3.1" fill="#72b5e1" stroke="#355468"/><circle cx="152.4" cy="351.2" r="3.0" fill="#1a242a" stroke="#000000"/><circle cx="147.7" cy="351.2" r="3.0" fill="#41657c" stroke="#17252e"/><circle cx="217.4" cy="351.2" r="3.0" fill="#f2b5bb" stroke="#3e2e30"/><circle cx="139.9" cy="351.3" r="3.0" fill="#6dadd7" stroke="#324f62"/><circle cx="137.9" cy="351.3" r="3.0" fill="#72b5e1" stroke="#355468"/><circle cx="224.0" cy="351.3" r="3.0" fill="#f2b5bb" stroke="#3e2e30"/><circle cx="158.8" cy="351.3" r="3.0" fill="#4d3b3d" stroke="#090707"/><circle cx="101.7" cy="351.3" r="3.0" fill="#72b5e1" stroke="#355468"/><circle cx="187.3" cy="351.3" r="3.0" fill="#f2b5bb" stroke="#3e2e30"/><circle cx="143.1" cy="351.3" r="3.0" fill="#639cc2" stroke="#2c4556"/><circle cx="152.4" cy="351.4" r="3.0" fill="#19232a" stroke="#000000"/><circle cx="183.2" cy="351.4" r="3.0" fill="#f2b5bb" stroke="#3e2e30"/><circle cx="194.9" cy="351.4" r="3.0" fill="#f2b5bb" stroke="#3e2e30"/><circle cx="162.6" cy="351.4" r="3.0" fill="#9c7579" stroke="#221a1b"/><circle cx="208.8" cy="351.5" r="3.0" fill="#f2b5bb" stroke="#3e2e30"/><circle cx="150.8" cy="351.5" r="3.0" fill="#253641" stroke="#06090b"/><circle cx="152.1" cy="351.5" r="3.0" fill="#1b262d" stroke="#000000"/><circle cx="170.0" cy="351.5" r="3.0" fill="#eaafb5" stroke="#3b2c2e"/><circle cx="173.6" cy="351.5" r="3.0" fill="#f2b5bb" stroke="#3e2e30"/><circle cx="204.5" cy="351.6" r="3.0" fill="#f2b5bb" stroke="#3e2e30"/><circle cx="206.2" cy="351.6" r="3.0" fill="#f2b5bb" stroke="#3e2e30"/><circle cx="222.9" cy="351.7" r="3.0" fill="#f2b5bb" stroke="#3e2e30"/><circle cx="173.4" cy="351.7" r="3.0" fill="#f2b5bb" stroke="#3e2e30"/><circle cx="170.5" cy="351.8" r="3.0" fill="#ecb0b6" stroke="#3c2c2e"/><circle cx="149.0" cy="351.8" r="3.0" fill="#345062" stroke="#0f181e"/><circle cx="213.6" cy="351.8" r="3.0" fill="#f2b5bb" stroke="#3e2e30"/><circle cx="179.9" cy="351.8" r="3.0" fill="#f2b5bb" stroke="#3e2e30"/><circle cx="152.0" cy="351.8" r="3.0" fill="#1c272e" stroke="#000000"/><circle cx="203.0" cy="351.8" r="3.0" fill="#f2b5bb" stroke="#3e2e30"/><circle cx="160.4" cy="351.8" r="3.0" fill="#6e5456" stroke="#140f0f"/><circle cx="151.2" cy="351.9" r="3.0" fill="#21303a" stroke="#030607"/><circle cx="163.4" cy="351.9" r="3.0" fill="#a98084" stroke="#271d1e"/><circle cx="152.2" cy="352.0" r="3.0" fill="#1a252c" stroke="#000000"/><circle cx="189.5" cy="352.0" r="3.0" fill="#f2b5bb" stroke="#3e2e30"/><circle cx="192.8" cy="352.0" r="3.0" fill="#f2b5bb" stroke="#3e2e30"/><circle cx="221.8" cy="352.0" r="3.0" fill="#f2b5bb" stroke="#3e2e30"/><circle cx="146.9" cy="352.1" r="3.0" fill="#48708a" stroke="#1b2b36"/><circle cx="191.6" cy="352.1" r="3.0" fill="#f2b5bb" stroke="#3e2e30"/><circle cx="146.1" cy="352.1" r="3.0" fill="#4f7c9a" stroke="#20323f"/><circle cx="152.5" cy="352.2" r="3.0" fill="#192329" stroke="#000000"/><circle cx="152.4" cy="352.2" r="3.0" fill="#192329" stroke="#000000"/><circle cx="220.8" cy="352.2" r="3.0" fill="#f2b5bb" stroke="#3e2e30"/><circle cx="137.4" cy="352.2" r="3.0" fill="#72b5e1" stroke="#355468"/><circle cx="196.2" cy="352.3" r="3.0" fill="#f2b5bb" stroke="#3e2e30"/><circle cx="167.8" cy="352.3" r="3.0" fill="#dfa7ac" stroke="#38292b"/><circle cx="140.1" cy="352.3" r="3.0" fill="#6dadd6" stroke="#324f62"/><circle cx="161.1" cy="352.3" r="3.0" fill="#7d5e61" stroke="#181213"/><circle cx="179.4" cy="352.3" r="3.0" fill="#f2b5bb" stroke="#3e2e30"/><circle cx="164.9" cy="352.4" r="3.0" fill="#c29296" stroke="#2f2324"/><circle cx="151.2" cy="352.4" r="3.0" fill="#21303a" stroke="#040607"/><circle cx="219.6" cy="352.4" r="3.0" fill="#f2b5bb" stroke="#3e2e30"/><circle cx="148.1" cy="352.4" r="3.0" fill="#3d5e74" stroke="#152128"/><circle cx="145.3" cy="352.4" r="3.0" fill="#5686a6" stroke="#243846"/><circle cx="215.5" cy="352.4" r="3.0" fill="#f2b5bb" stroke="#3e2e30"/><circle cx="178.8" cy="352.4" r="3.0" fill="#f2b5bb" stroke="#3e2e30"/><circle cx="216.7" cy="352.5" r="3.0" fill="#f2b5bb" stroke="#3e2e30"/><circle cx="175.8" cy="352.6" r="3.0" fill="#f2b5bb" stroke="#3e2e30"/><circle cx="197.4" cy="352.6" r="3.0" fill="#f2b5bb" stroke="#3e2e30"/><circle cx="139.3" cy="352.6" r="3.0" fill="#6eafd9" stroke="#335064"/><circle cx="159.2" cy="352.6" r="3.0" fill="#544142" stroke="#0b0809"/><circle cx="195.7" cy="352.6" r="3.0" fill="#f2b5bb" stroke="#3e2e30"/><circle cx="152.6" cy="352.7" r="3.0" fill="#182127" stroke="#000000"/><circle cx="148.2" cy="352.8" r="3.0" fill="#3d5d72" stroke="#142028"/><circle cx="182.7" cy="352.8" r="3.0" fill="#f2b5bb" stroke="#3e2e30"/><circle cx="183.3" cy="352.8" r="3.0" fill="#f2b5bb" stroke="#3e2e30"/><circle cx="143.2" cy="352.8" r="3.0" fill="#629bc0" stroke="#2b4555"/><circle cx="146.8" cy="352.8" r="3.0" fill="#49728d" stroke="#1c2d37"/><circle cx="218.3" cy="352.8" r="3.0" fill="#f2b5bb" stroke="#3e2e30"/><circle cx="152.6" cy="352.9" r="3.0" fill="#182127" stroke="#000000"/><circle cx="196.2" cy="352.9" r="3.0" fill="#f2b5bb" stroke="#3e2e30"/><circle cx="159.1" cy="352.9" r="3.0" fill="#513f40" stroke="#0b0808"/><circle cx="151.6" cy="352.9" r="3.0" fill="#1e2b33" stroke="#020203"/><circle cx="176.2" cy="353.0" r="3.0" fill="#f2b5bb" stroke="#3e2e30"/><circle cx="161.2" cy="353.0" r="3.0" fill="#7e6063" stroke="#191213"/><circle cx="131.5" cy="353.0" r="3.0" fill="#72b5e1" stroke="#355468"/><circle cx="83.1" cy="353.0" r="3.0" fill="#72b5e1" stroke="#355468"/><circle cx="216.3" cy="353.0" r="3.0" fill="#f2b5bb" stroke="#3e2e30"/><circle cx="200.6" cy="353.1" r="3.0" fill="#f2b5bb" stroke="#3e2e30"/><circle cx="137.7" cy="353.2" r="3.0" fill="#72b5e1" stroke="#355468"/><circle cx="138.0" cy="353.2" r="3.0" fill="#72b5e1" stroke="#355468"/><circle cx="191.4" cy="353.2" r="3.0" fill="#f2b5bb" stroke="#3e2e30"/><circle cx="170.3" cy="353.2" r="3.0" fill="#ebb0b6" stroke="#3c2c2e"/><circle cx="144.9" cy="353.2" r="3.0" fill="#588aab" stroke="#253b49"/><circle cx="156.7" cy="353.2" r="3.0" fill="#2a2222" stroke="#000000"/><circle cx="171.8" cy="353.3" r="3.0" fill="#f2b5bb" stroke="#3e2e30"/><circle cx="147.3" cy="353.3" r="3.0" fill="#446a82" stroke="#192831"/><circle cx="140.3" cy="353.3" r="3.0" fill="#6cacd6" stroke="#324f61"/><circle cx="157.7" cy="353.3" r="3.0" fill="#392d2e" stroke="#030202"/><circle cx="156.7" cy="353.4" r="3.0" fill="#2a2223" stroke="#000000"/><circle cx="152.5" cy="353.4" r="3.0" fill="#192228" stroke="#000000"/><circle cx="211.7" cy="353.4" r="3.0" fill="#f2b5bb" stroke="#3e2e30"/><circle cx="181.8" cy="353.4" r="3.0" fill="#f2b5bb" stroke="#3e2e30"/><circle cx="167.6" cy="353.5" r="3.0" fill="#dea6ab" stroke="#37292b"/><circle cx="149.6" cy="353.5" r="3.0" fill="#2f4757" stroke="#0c1318"/><circle cx="214.1" cy="353.5" r="3.0" fill="#f2b5bb" stroke="#3e2e30"/><circle cx="110.0" cy="353.5" r="3.0" fill="#72b5e1" stroke="#355468"/><circle cx="182.4" cy="353.5" r="3.0" fill="#f2b5bb" stroke="#3e2e30"/><circle cx="213.5" cy="353.5" r="3.0" fill="#f2b5bb" stroke="#3e2e30"/><circle cx="182.3" cy="353.5" r="3.0" fill="#f2b5bb" stroke="#3e2e30"/><circle cx="139.0" cy="353.6" r="3.0" fill="#6fafda" stroke="#335164"/><circle cx="136.3" cy="353.6" r="3.0" fill="#72b5e1" stroke="#355468"/><circle cx="213.1" cy="353.6" r="3.0" fill="#f2b5bb" stroke="#3e2e30"/><circle cx="152.5" cy="353.6" r="3.0" fill="#182127" stroke="#000000"/><circle cx="193.0" cy="353.7" r="3.0" fill="#f2b5bb" stroke="#3e2e30"/><circle cx="208.1" cy="353.8" r="3.0" fill="#f2b5bb" stroke="#3e2e30"/><circle cx="152.8" cy="353.8" r="3.0" fill="#171f25" stroke="#000000"/><circle cx="75.0" cy="353.8" r="3.1" fill="#72b5e1" stroke="#355468"/><circle cx="152.1" cy="353.9" r="3.0" fill="#1b252c" stroke="#000000"/><circle cx="147.9" cy="353.9" r="3.0" fill="#3f6177" stroke="#16222b"/><circle cx="192.0" cy="353.9" r="3.0" fill="#f2b5bb" stroke="#3e2e30"/><circle cx="180.9" cy="353.9" r="3.0" fill="#f2b5bb" stroke="#3e2e30"/><circle cx="150.8" cy="353.9" r="3.0" fill="#243540" stroke="#05090b"/><circle cx="158.3" cy="353.9" r="3.0" fill="#423335" stroke="#060404"/><circle cx="185.3" cy="353.9" r="3.0" fill="#f2b5bb" stroke="#3e2e30"/><circle cx="115.6" cy="354.0" r="3.0" fill="#72b5e1" stroke="#355468"/><circle cx="193.5" cy="354.0" r="3.0" fill="#f2b5bb" stroke="#3e2e30"/><circle cx="187.9" cy="354.0" r="3.0" fill="#f2b5bb" stroke="#3e2e30"/><circle cx="156.5" cy="354.0" r="3.0" fill="#272020" stroke="#000000"/><circle cx="166.2" cy="354.1" r="3.0" fill="#d19da2" stroke="#342628"/><circle cx="124.4" cy="354.1" r="3.0" fill="#72b5e1" stroke="#355468"/><circle cx="79.1" cy="354.1" r="3.0" fill="#72b5e1" stroke="#355468"/><circle cx="152.2" cy="354.1" r="3.0" fill="#1a242b" stroke="#000000"/><circle cx="175.8" cy="354.1" r="3.0" fill="#f2b5bb" stroke="#3e2e30"/><circle cx="210.7" cy="354.1" r="3.0" fill="#f2b5bb" stroke="#3e2e30"/><circle cx="179.7" cy="354.1" r="3.0" fill="#f2b5bb" stroke="#3e2e30"/><circle cx="164.1" cy="354.2" r="3.0" fill="#b4878c" stroke="#2a1f21"/><circle cx="100.0" cy="354.2" r="3.0" fill="#72b5e1" stroke="#355468"/><circle cx="152.5" cy="354.3" r="3.0" fill="#182127" stroke="#000000"/><circle cx="167.9" cy="354.3" r="3.0" fill="#dfa7ad" stroke="#382a2b"/><circle cx="148.1" cy="354.3" r="3.0" fill="#3d5d72" stroke="#142028"/><circle cx="190.3" cy="354.3" r="3.0" fill="#f2b5bb" stroke="#3e2e30"/><circle cx="204.6" cy="354.3" r="3.0" fill="#f2b5bb" stroke="#3e2e30"/><circle cx="207.1" cy="354.4" r="3.0" fill="#f2b5bb" stroke="#3e2e30"/><circle cx="138.1" cy="354.4" r="3.0" fill="#72b5e1" stroke="#355468"/><circle cx="209.2" cy="354.4" r="3.0" fill="#f2b5bb" stroke="#3e2e30"/><circle cx="142.3" cy="354.4" r="3.0" fill="#66a1c8" stroke="#2e485a"/><circle cx="157.4" cy="354.5" r="3.0" fill="#332829" stroke="#010101"/><circle cx="145.4" cy="354.5" r="3.0" fill="#5585a4" stroke="#233845"/><circle cx="163.5" cy="354.5" r="3.0" fill="#ac8185" stroke="#271d1f"/><circle cx="158.1" cy="354.5" r="3.0" fill="#3e3132" stroke="#040303"/><circle cx="140.6" cy="354.5" r="3.0" fill="#6caad4" stroke="#314e60"/><circle cx="152.8" cy="354.5" r="3.0" fill="#171f24" stroke="#000000"/><circle cx="152.9" cy="354.5" r="3.0" fill="#161e23" stroke="#000000"/><circle cx="88.6" cy="354.6" r="3.0" fill="#72b5e1" stroke="#355468"/><circle cx="146.4" cy="354.6" r="3.0" fill="#4d7894" stroke="#1e303b"/><circle cx="201.6" cy="354.6" r="3.0" fill="#f2b5bb" stroke="#3e2e30"/><circle cx="152.8" cy="354.6" r="3.0" fill="#171f25" stroke="#000000"/><circle cx="152.3" cy="354.6" r="3.0" fill="#192329" stroke="#000000"/><circle cx="166.4" cy="354.7" r="3.0" fill="#d39ea3" stroke="#342728"/><circle cx="111.8" cy="354.7" r="3.1" fill="#72b5e1" stroke="#355468"/><circle cx="152.9" cy="354.7" r="3.0" fill="#161e24" stroke="#000000"/><circle cx="187.5" cy="354.7" r="3.0" fill="#f2b5bb" stroke="#3e2e30"/><circle cx="144.1" cy="354.8" r="3.0" fill="#5d93b6" stroke="#28404f"/><circle cx="213.1" cy="354.8" r="3.0" fill="#f2b5bb" stroke="#3e2e30"/><circle cx="203.0" cy="354.8" r="3.0" fill="#f2b5bb" stroke="#3e2e30"/><circle cx="163.3" cy="354.9" r="3.0" fill="#a77e82" stroke="#261c1d"/><circle cx="216.3" cy="354.9" r="3.0" fill="#f2b5bb" stroke="#3e2e30"/><circle cx="149.7" cy="354.9" r="3.0" fill="#2d4453" stroke="#0b1116"/><circle cx="205.6" cy="354.9" r="3.0" fill="#f2b5bb" stroke="#3e2e30"/><circle cx="183.3" cy="355.0" r="3.0" fill="#f2b5bb" stroke="#3e2e30"/><circle cx="165.3" cy="355.0" r="3.0" fill="#c69599" stroke="#302425"/><circle cx="101.3" cy="355.0" r="3.1" fill="#72b5e1" stroke="#355468"/><circle cx="150.9" cy="355.0" r="3.0" fill="#23333d" stroke="#050709"/><circle cx="191.2" cy="355.1" r="3.0" fill="#f2b5bb" stroke="#3e2e30"/><circle cx="145.8" cy="355.1" r="3.0" fill="#517f9d" stroke="#213441"/><circle cx="152.9" cy="355.1" r="3.0" fill="#161e23" stroke="#000000"/><circle cx="93.4" cy="355.1" r="3.1" fill="#72b5e1" stroke="#355468"/><circle cx="152.6" cy="355.1" r="3.0" fill="#182026" stroke="#000000"/><circle cx="152.8" cy="355.1" r="3.0" fill="#171f24" stroke="#000000"/><circle cx="209.8" cy="355.1" r="3.0" fill="#f2b5bb" stroke="#3e2e30"/><circle cx="217.6" cy="355.2" r="3.0" fill="#f2b5bb" stroke="#3e2e30"/><circle cx="181.1" cy="355.2" r="3.0" fill="#f2b5bb" stroke="#3e2e30"/><circle cx="138.0" cy="355.2" r="3.0" fill="#72b5e1" stroke="#355468"/><circle cx="152.8" cy="355.2" r="3.0" fill="#161e24" stroke="#000000"/><circle cx="153.0" cy="355.2" r="3.0" fill="#161d22" stroke="#000000"/><circle cx="148.6" cy="355.2" r="3.0" fill="#385568" stroke="#111b22"/><circle cx="149.1" cy="355.2" r="3.0" fill="#334e5f" stroke="#0f171d"/><circle cx="145.6" cy="355.2" r="3.0" fill="#5381a0" stroke="#223642"/><circle cx="136.8" cy="355.3" r="3.0" fill="#72b5e1" stroke="#355468"/><circle cx="108.6" cy="355.3" r="3.0" fill="#72b5e1" stroke="#355468"/><circle cx="123.1" cy="355.3" r="3.0" fill="#72b5e1" stroke="#355468"/><circle cx="202.9" cy="355.3" r="3.0" fill="#f2b5bb" stroke="#3e2e30"/><circle cx="134.9" cy="355.3" r="3.0" fill="#72b5e1" stroke="#355468"/><circle cx="146.9" cy="355.3" r="3.0" fill="#48708a" stroke="#1b2b35"/><circle cx="210.5" cy="355.3" r="3.0" fill="#f2b5bb" stroke="#3e2e30"/><circle cx="161.0" cy="355.4" r="3.0" fill="#7a5c5f" stroke="#171112"/><circle cx="100.0" cy="355.4" r="3.0" fill="#72b5e1" stroke="#355468"/><circle cx="107.6" cy="355.4" r="3.0" fill="#72b5e1" stroke="#355468"/><circle cx="174.9" cy="355.4" r="3.0" fill="#f2b5bb" stroke="#3e2e30"/><circle cx="122.3" cy="355.4" r="3.0" fill="#72b5e1" stroke="#355468"/><circle cx="117.5" cy="355.4" r="3.0" fill="#72b5e1" stroke="#355468"/><circle cx="185.1" cy="355.4" r="3.0" fill="#f2b5bb" stroke="#3e2e30"/><circle cx="156.8" cy="355.5" r="3.0" fill="#2b2223" stroke="#000000"/><circle cx="157.9" cy="355.5" r="3.0" fill="#3a2d2f" stroke="#030202"/><circle cx="152.8" cy="355.5" r="3.0" fill="#171f24" stroke="#000000"/><circle cx="143.7" cy="355.5" r="3.0" fill="#5f96bb" stroke="#2a4252"/><circle cx="205.3" cy="355.5" r="3.0" fill="#f2b5bb" stroke="#3e2e30"/><circle cx="201.6" cy="355.5" r="3.0" fill="#f2b5bb" stroke="#3e2e30"/><circle cx="157.1" cy="355.5" r="3.0" fill="#2e2525" stroke="#000000"/><circle cx="148.5" cy="355.5" r="3.0" fill="#39576b" stroke="#121d23"/><circle cx="162.5" cy="355.5" r="3.0" fill="#987376" stroke="#21191a"/><circle cx="214.6" cy="355.6" r="3.0" fill="#f2b5bb" stroke="#3e2e30"/><circle cx="80.3" cy="355.6" r="3.1" fill="#72b5e1" stroke="#355468"/><circle cx="83.8" cy="355.6" r="3.1" fill="#72b5e1" stroke="#355468"/><circle cx="184.4" cy="355.6" r="3.0" fill="#f2b5bb" stroke="#3e2e30"/><circle cx="178.1" cy="355.7" r="3.0" fill="#f2b5bb" stroke="#3e2e30"/><circle cx="206.4" cy="355.7" r="3.0" fill="#f2b5bb" stroke="#3e2e30"/><circle cx="168.6" cy="355.8" r="3.0" fill="#e4abb0" stroke="#3a2b2d"/><circle cx="163.3" cy="355.8" r="3.0" fill="#a77e82" stroke="#261c1d"/><circle cx="132.8" cy="355.9" r="3.0" fill="#72b5e1" stroke="#355468"/><circle cx="134.9" cy="355.9" r="3.0" fill="#72b5e1" stroke="#355468"/><circle cx="174.0" cy="355.9" r="3.0" fill="#f2b5bb" stroke="#3e2e30"/><circle cx="160.6" cy="356.0" r="3.0" fill="#715659" stroke="#150f10"/><circle cx="169.6" cy="356.0" r="3.0" fill="#e9aeb4" stroke="#3b2c2e"/><circle cx="202.0" cy="356.0" r="3.0" fill="#f2b5bb" stroke="#3e2e30"/><circle cx="158.4" cy="356.0" r="3.0" fill="#433435" stroke="#060404"/><circle cx="108.2" cy="356.1" r="3.0" fill="#72b5e1" stroke="#355468"/><circle cx="161.7" cy="356.1" r="3.0" fill="#88676a" stroke="#1c1516"/><circle cx="168.1" cy="356.1" r="3.0" fill="#e1a9ae" stroke="#392a2c"/><circle cx="145.1" cy="356.1" r="3.0" fill="#5788a9" stroke="#243a47"/><circle cx="142.0" cy="356.2" r="3.0" fill="#67a3cb" stroke="#2e4a5b"/><circle cx="87.1" cy="356.2" r="3.0" fill="#72b5e1" stroke="#355468"/><circle cx="151.6" cy="356.3" r="3.0" fill="#1d2a32" stroke="#010203"/><circle cx="195.9" cy="356.3" r="3.0" fill="#f2b5bb" stroke="#3e2e30"/><circle cx="141.9" cy="356.4" r="3.0" fill="#68a4cc" stroke="#2f4a5c"/><circle cx="166.5" cy="356.4" r="3.0" fill="#d49fa4" stroke="#342729"/><line x1="54.0" y1="356.40" x2="255.4" y2="356.40" stroke="#1a1a1a" stroke-width="1.0" stroke-dasharray="3.2,1.8"/><path d="M82.0 356.20 L82.5 356.18 L83.0 356.16 L83.5 356.14 L84.0 356.12 L84.5 356.11 L85.0 356.09 L85.5 356.07 L86.0 356.05 L86.5 356.03 L87.0 356.01 L87.5 355.99 L88.0 355.97 L88.5 355.96 L89.0 355.94 L89.5 355.92 L90.0 355.90 L90.5 355.89 L91.0 355.89 L91.5 355.88 L92.0 355.88 L92.5 355.88 L93.0 355.87 L93.5 355.87 L94.0 355.86 L94.5 355.86 L95.0 355.85 L95.5 355.84 L96.0 355.84 L96.5 355.83 L97.0 355.83 L97.5 355.82 L98.0 355.82 L98.5 355.81 L99.0 355.81 L99.5 355.81 L100.0 355.80 L100.5 355.80 L101.0 355.79 L101.5 355.79 L102.0 355.79 L102.5 355.78 L103.0 355.78 L103.5 355.78 L104.0 355.77 L104.5 355.77 L105.0 355.77 L105.5 355.76 L106.0 355.76 L106.5 355.76 L107.0 355.75 L107.5 355.75 L108.0 355.75 L108.5 355.74 L109.0 355.74 L109.5 355.74 L110.0 355.73 L110.5 355.73 L111.0 355.73 L111.5 355.72 L112.0 355.72 L112.5 355.72 L113.0 355.71 L113.5 355.71 L114.0 355.71 L114.5 355.70 L115.0 355.70 L115.5 355.70 L116.0 355.69 L116.5 355.69 L117.0 355.69 L117.5 355.68 L118.0 355.68 L118.5 355.68 L119.0 355.67 L119.5 355.67 L120.0 355.67 L120.5 355.66 L121.0 355.66 L121.5 355.66 L122.0 355.65 L122.5 355.65 L123.0 355.65 L123.5 355.64 L124.0 355.64 L124.5 355.64 L125.0 355.63 L125.5 355.63 L126.0 355.63 L126.5 355.62 L127.0 355.62 L127.5 355.62 L128.0 355.61 L128.5 355.61 L129.0 355.61 L129.5 355.60 L130.0 355.60 L130.5 355.55 L131.0 355.50 L131.5 355.45 L132.0 355.40 L132.5 355.35 L133.0 355.30 L133.5 355.25 L134.0 355.20 L134.5 355.15 L135.0 355.10 L135.5 355.05 L136.0 355.00 L136.5 354.95 L137.0 354.90 L137.5 354.85 L138.0 354.80 L138.5 354.75 L139.0 354.70 L139.5 354.65 L140.0 354.60 L140.5 354.57 L141.0 354.54 L141.5 354.51 L142.0 354.48 L142.5 354.45 L143.0 354.42 L143.5 354.39 L144.0 354.36 L144.5 354.33 L145.0 354.30 L145.5 354.27 L146.0 354.24 L146.5 354.21 L147.0 354.18 L147.5 354.15 L148.0 354.12 L148.5 354.09 L149.0 354.06 L149.5 354.03 L150.0 354.00 L150.5 354.00 L151.0 354.00 L151.5 354.00 L152.0 354.00 L152.5 354.00 L153.0 354.00 L153.5 354.00 L154.0 354.00 L154.5 354.00 L155.0 354.00 L155.5 354.00 L156.0 354.00 L156.5 354.00 L157.0 354.00 L157.5 354.00 L158.0 354.00 L158.5 354.00 L159.0 354.00 L159.5 354.00 L160.0 354.00 L160.5 354.01 L161.0 354.01 L161.5 354.02 L162.0 354.02 L162.5 354.03 L163.0 354.04 L163.5 354.04 L164.0 354.05 L164.5 354.06 L165.0 354.06 L165.5 354.07 L166.0 354.07 L166.5 354.08 L167.0 354.09 L167.5 354.09 L168.0 354.10 L168.5 354.11 L169.0 354.11 L169.5 354.12 L170.0 354.12 L170.5 354.13 L171.0 354.14 L171.5 354.14 L172.0 354.15 L172.5 354.16 L173.0 354.16 L173.5 354.17 L174.0 354.18 L174.5 354.18 L175.0 354.19 L175.5 354.19 L176.0 354.20 L176.5 354.21 L177.0 354.21 L177.5 354.22 L178.0 354.23 L178.5 354.23 L179.0 354.24 L179.5 354.24 L180.0 354.25 L180.5 354.26 L181.0 354.26 L181.5 354.27 L182.0 354.27 L182.5 354.28 L183.0 354.29 L183.5 354.29 L184.0 354.30 L184.5 354.31 L185.0 354.31 L185.5 354.32 L186.0 354.32 L186.5 354.33 L187.0 354.34 L187.5 354.34 L188.0 354.35 L188.5 354.36 L189.0 354.36 L189.5 354.37 L190.0 354.38 L190.5 354.38 L191.0 354.39 L191.5 354.39 L192.0 354.40 L192.5 354.41 L193.0 354.41 L193.5 354.42 L194.0 354.43 L194.5 354.43 L195.0 354.44 L195.5 354.44 L196.0 354.45 L196.5 354.46 L197.0 354.46 L197.5 354.47 L198.0 354.48 L198.5 354.48 L199.0 354.49 L199.5 354.49 L200.0 354.50 L200.5 354.50 L201.0 354.51 L201.5 354.51 L202.0 354.51 L202.5 354.52 L203.0 354.52 L203.5 354.52 L204.0 354.53 L204.5 354.53 L205.0 354.53 L205.5 354.54 L206.0 354.54 L206.5 354.54 L207.0 354.55 L207.5 354.55 L208.0 354.55 L208.5 354.56 L209.0 354.56 L209.5 354.56 L210.0 354.57 L210.5 354.57 L211.0 354.57 L211.5 354.58 L212.0 354.58 L212.5 354.58 L213.0 354.59 L213.5 354.59 L214.0 354.59 L214.5 354.60 L215.0 354.60 L215.5 354.60 L216.0 354.60 L216.5 354.60 L217.0 354.60 L217.5 354.60 L218.0 354.60 L218.5 354.60 L219.0 354.60 L219.5 354.60 L220.0 354.60 L220.5 354.60 L221.0 354.60 L221.5 354.60 L222.0 354.60 L222.5 354.60 L223.0 354.60 L223.5 354.60 L224.0 354.60 L224.5 354.58 L225.0 354.55 L225.5 354.53 L226.0 354.50 L226.5 354.48 L227.0 354.45 L227.5 354.43 L228.0 354.40 L228.5 354.38 L229.0 354.35 L229.5 354.32 L230.0 354.30 L230.5 354.27 L231.0 354.25 L231.5 354.22 L232.0 354.20 L232.5 354.13 L233.0 354.07 L233.5 354.00 L234.0 353.93 L234.5 353.87 L235.0 353.80 L235.5 353.73 L236.0 353.67 L236.5 353.60 L237.0 353.53 L237.5 353.47 L238.0 353.40 L238.5 353.35 L239.0 353.30 L239.5 353.25 L240.0 353.20 L240.5 353.15 L241.0 353.10 L241.5 353.05 L242.0 353.00 L242.0 353.60 L241.5 353.75 L241.0 353.90 L240.5 354.05 L240.0 354.20 L239.5 354.35 L239.0 354.50 L238.5 354.65 L238.0 354.80 L237.5 354.95 L237.0 355.10 L236.5 355.25 L236.0 355.40 L235.5 355.53 L235.0 355.67 L234.5 355.80 L234.0 355.93 L233.5 356.07 L233.0 356.20 L232.5 356.33 L232.0 356.47 L231.5 356.60 L231.0 356.73 L230.5 356.87 L230.0 357.00 L229.5 357.07 L229.0 357.15 L228.5 357.23 L228.0 357.30 L227.5 357.38 L227.0 357.45 L226.5 357.53 L226.0 357.60 L225.5 357.67 L225.0 357.74 L224.5 357.81 L224.0 357.88 L223.5 357.95 L223.0 358.02 L222.5 358.09 L222.0 358.16 L221.5 358.23 L221.0 358.30 L220.5 358.37 L220.0 358.44 L219.5 358.51 L219.0 358.58 L218.5 358.65 L218.0 358.72 L217.5 358.79 L217.0 358.86 L216.5 358.93 L216.0 359.00 L215.5 359.05 L215.0 359.10 L214.5 359.15 L214.0 359.20 L213.5 359.25 L213.0 359.30 L212.5 359.35 L212.0 359.40 L211.5 359.45 L211.0 359.50 L210.5 359.55 L210.0 359.60 L209.5 359.65 L209.0 359.70 L208.5 359.75 L208.0 359.80 L207.5 359.85 L207.0 359.90 L206.5 359.95 L206.0 360.00 L205.5 360.05 L205.0 360.10 L204.5 360.15 L204.0 360.20 L203.5 360.25 L203.0 360.30 L202.5 360.35 L202.0 360.40 L201.5 360.45 L201.0 360.50 L200.5 360.55 L200.0 360.60 L199.5 360.64 L199.0 360.67 L198.5 360.71 L198.0 360.74 L197.5 360.78 L197.0 360.81 L196.5 360.85 L196.0 360.88 L195.5 360.92 L195.0 360.95 L194.5 360.99 L194.0 361.02 L193.5 361.06 L193.0 361.09 L192.5 361.12 L192.0 361.16 L191.5 361.19 L191.0 361.23 L190.5 361.26 L190.0 361.30 L189.5 361.30 L189.0 361.30 L188.5 361.30 L188.0 361.30 L187.5 361.30 L187.0 361.30 L186.5 361.30 L186.0 361.30 L185.5 361.29 L185.0 361.29 L184.5 361.29 L184.0 361.29 L183.5 361.29 L183.0 361.29 L182.5 361.29 L182.0 361.29 L181.5 361.29 L181.0 361.29 L180.5 361.29 L180.0 361.29 L179.5 361.29 L179.0 361.29 L178.5 361.29 L178.0 361.29 L177.5 361.28 L177.0 361.28 L176.5 361.28 L176.0 361.28 L175.5 361.28 L175.0 361.28 L174.5 361.28 L174.0 361.28 L173.5 361.28 L173.0 361.28 L172.5 361.28 L172.0 361.28 L171.5 361.28 L171.0 361.28 L170.5 361.28 L170.0 361.27 L169.5 361.27 L169.0 361.27 L168.5 361.27 L168.0 361.27 L167.5 361.27 L167.0 361.27 L166.5 361.27 L166.0 361.27 L165.5 361.27 L165.0 361.27 L164.5 361.27 L164.0 361.27 L163.5 361.27 L163.0 361.27 L162.5 361.27 L162.0 361.26 L161.5 361.26 L161.0 361.26 L160.5 361.26 L160.0 361.26 L159.5 361.26 L159.0 361.26 L158.5 361.26 L158.0 361.26 L157.5 361.26 L157.0 361.26 L156.5 361.26 L156.0 361.26 L155.5 361.26 L155.0 361.26 L154.5 361.26 L154.0 361.25 L153.5 361.25 L153.0 361.25 L152.5 361.25 L152.0 361.25 L151.5 361.25 L151.0 361.25 L150.5 361.25 L150.0 361.25 L149.5 361.25 L149.0 361.25 L148.5 361.25 L148.0 361.25 L147.5 361.25 L147.0 361.25 L146.5 361.25 L146.0 361.25 L145.5 361.24 L145.0 361.24 L144.5 361.24 L144.0 361.24 L143.5 361.24 L143.0 361.24 L142.5 361.24 L142.0 361.24 L141.5 361.24 L141.0 361.24 L140.5 361.24 L140.0 361.24 L139.5 361.24 L139.0 361.24 L138.5 361.24 L138.0 361.24 L137.5 361.23 L137.0 361.23 L136.5 361.23 L136.0 361.23 L135.5 361.23 L135.0 361.23 L134.5 361.23 L134.0 361.23 L133.5 361.23 L133.0 361.23 L132.5 361.23 L132.0 361.23 L131.5 361.23 L131.0 361.23 L130.5 361.23 L130.0 361.23 L129.5 361.22 L129.0 361.22 L128.5 361.22 L128.0 361.22 L127.5 361.22 L127.0 361.22 L126.5 361.22 L126.0 361.22 L125.5 361.22 L125.0 361.22 L124.5 361.22 L124.0 361.22 L123.5 361.22 L123.0 361.22 L122.5 361.22 L122.0 361.21 L121.5 361.21 L121.0 361.21 L120.5 361.21 L120.0 361.21 L119.5 361.21 L119.0 361.21 L118.5 361.21 L118.0 361.21 L117.5 361.21 L117.0 361.21 L116.5 361.21 L116.0 361.21 L115.5 361.21 L115.0 361.21 L114.5 361.21 L114.0 361.20 L113.5 361.20 L113.0 361.20 L112.5 361.20 L112.0 361.20 L111.5 361.20 L111.0 361.20 L110.5 361.20 L110.0 361.20 L109.5 361.16 L109.0 361.13 L108.5 361.09 L108.0 361.06 L107.5 361.02 L107.0 360.99 L106.5 360.95 L106.0 360.92 L105.5 360.88 L105.0 360.85 L104.5 360.81 L104.0 360.78 L103.5 360.75 L103.0 360.71 L102.5 360.68 L102.0 360.64 L101.5 360.61 L101.0 360.57 L100.5 360.54 L100.0 360.50 L99.5 360.44 L99.0 360.39 L98.5 360.33 L98.0 360.27 L97.5 360.22 L97.0 360.16 L96.5 360.11 L96.0 360.05 L95.5 359.99 L95.0 359.94 L94.5 359.88 L94.0 359.83 L93.5 359.77 L93.0 359.71 L92.5 359.66 L92.0 359.60 L91.5 359.54 L91.0 359.49 L90.5 359.43 L90.0 359.38 L89.5 359.32 L89.0 359.27 L88.5 359.21 L88.0 359.16 L87.5 359.10 L87.0 359.04 L86.5 358.99 L86.0 358.93 L85.5 358.88 L85.0 358.82 L84.5 358.77 L84.0 358.71 L83.5 358.66 L83.0 358.60 L82.5 358.60 L82.0 358.60 Z" fill="#0c0c0c"/><circle cx="86.4" cy="359.0" r="2.166910139142016" fill="#cfcfcf" stroke="#1a1a1a" stroke-width="0.95"/><circle cx="90.4" cy="359.0" r="2.1947802216695065" fill="#cfcfcf" stroke="#1a1a1a" stroke-width="0.95"/><circle cx="94.6" cy="360.2" r="2.224580946830056" fill="#cfcfcf" stroke="#1a1a1a" stroke-width="0.95"/><circle cx="98.1" cy="360.0" r="2.1342519021612785" fill="#cfcfcf" stroke="#1a1a1a" stroke-width="0.95"/><circle cx="102.4" cy="360.9" r="2.39041008514529" fill="#cfcfcf" stroke="#1a1a1a" stroke-width="0.95"/><circle cx="107.1" cy="361.2" r="2.343454397999232" fill="#cfcfcf" stroke="#1a1a1a" stroke-width="0.95"/><circle cx="111.8" cy="360.7" r="2.195876114950932" fill="#cfcfcf" stroke="#1a1a1a" stroke-width="0.95"/><circle cx="116.0" cy="361.3" r="2.2450966623376125" fill="#cfcfcf" stroke="#1a1a1a" stroke-width="0.95"/><circle cx="120.2" cy="361.5" r="2.0345599137819987" fill="#cfcfcf" stroke="#1a1a1a" stroke-width="0.95"/><circle cx="124.3" cy="361.5" r="2.012739289132223" fill="#cfcfcf" stroke="#1a1a1a" stroke-width="0.95"/><circle cx="127.8" cy="361.4" r="2.3828648566821786" fill="#cfcfcf" stroke="#1a1a1a" stroke-width="0.95"/><circle cx="131.1" cy="360.8" r="2.331898478229" fill="#cfcfcf" stroke="#1a1a1a" stroke-width="0.95"/><circle cx="135.5" cy="361.1" r="2.23203026880821" fill="#cfcfcf" stroke="#1a1a1a" stroke-width="0.95"/><circle cx="139.9" cy="361.4" r="2.0002723079062394" fill="#cfcfcf" stroke="#1a1a1a" stroke-width="0.95"/><circle cx="143.3" cy="361.4" r="2.3901600015027" fill="#cfcfcf" stroke="#1a1a1a" stroke-width="0.95"/><circle cx="147.9" cy="361.1" r="2.134217072186841" fill="#cfcfcf" stroke="#1a1a1a" stroke-width="0.95"/><circle cx="151.7" cy="360.8" r="2.3080803639943057" fill="#cfcfcf" stroke="#1a1a1a" stroke-width="0.95"/><circle cx="155.4" cy="361.2" r="2.2104457876767944" fill="#cfcfcf" stroke="#1a1a1a" stroke-width="0.95"/><circle cx="159.2" cy="361.3" r="2.181960885678438" fill="#cfcfcf" stroke="#1a1a1a" stroke-width="0.95"/><circle cx="162.8" cy="361.5" r="2.0702807581448837" fill="#cfcfcf" stroke="#1a1a1a" stroke-width="0.95"/><circle cx="166.3" cy="361.0" r="2.1915990150598974" fill="#cfcfcf" stroke="#1a1a1a" stroke-width="0.95"/><circle cx="170.8" cy="361.0" r="2.095300384396614" fill="#cfcfcf" stroke="#1a1a1a" stroke-width="0.95"/><circle cx="175.1" cy="361.0" r="2.209102760476651" fill="#cfcfcf" stroke="#1a1a1a" stroke-width="0.95"/><circle cx="178.8" cy="361.5" r="2.07380890342844" fill="#cfcfcf" stroke="#1a1a1a" stroke-width="0.95"/><circle cx="182.4" cy="361.0" r="2.1318332872968067" fill="#cfcfcf" stroke="#1a1a1a" stroke-width="0.95"/><circle cx="186.8" cy="361.3" r="2.316126615547776" fill="#cfcfcf" stroke="#1a1a1a" stroke-width="0.95"/><circle cx="190.9" cy="360.8" r="2.30538789183986" fill="#cfcfcf" stroke="#1a1a1a" stroke-width="0.95"/><circle cx="194.6" cy="360.7" r="2.165745292774202" fill="#cfcfcf" stroke="#1a1a1a" stroke-width="0.95"/><circle cx="199.4" cy="360.4" r="2.1425841452774232" fill="#cfcfcf" stroke="#1a1a1a" stroke-width="0.95"/><circle cx="204.1" cy="360.5" r="2.1548677027224823" fill="#cfcfcf" stroke="#1a1a1a" stroke-width="0.95"/><circle cx="207.6" cy="360.0" r="2.312921298243135" fill="#cfcfcf" stroke="#1a1a1a" stroke-width="0.95"/><circle cx="211.4" cy="359.6" r="2.1517894295057847" fill="#cfcfcf" stroke="#1a1a1a" stroke-width="0.95"/><circle cx="215.1" cy="359.1" r="2.2966016473417556" fill="#cfcfcf" stroke="#1a1a1a" stroke-width="0.95"/><circle cx="219.1" cy="358.7" r="1.8" fill="#cfcfcf" stroke="#1a1a1a" stroke-width="0.95"/><circle cx="222.4" cy="358.0" r="1.8" fill="#cfcfcf" stroke="#1a1a1a" stroke-width="0.95"/><circle cx="226.3" cy="357.1" r="1.8" fill="#cfcfcf" stroke="#1a1a1a" stroke-width="0.95"/><circle cx="68.4" cy="359.2" r="2.3" fill="#f4f4f4" stroke="#aaaaaa" stroke-width="0.95"/><circle cx="154.6" cy="362.0" r="2.3" fill="#f6f6f6" stroke="#333333" stroke-width="0.95"/></g>
<path d="M54.0 129.1 H255.4 V370.2 H54.0 Z" fill="none" stroke="#3a3a3a" stroke-width="1.2"/>
<line x1="46.00" y1="361.90" x2="54.00" y2="361.90" stroke="#333" stroke-width="1.1"/>
<text x="42.00" y="365.80" font-size="10.6" text-anchor="end">0</text>
<line x1="46.00" y1="319.62" x2="54.00" y2="319.62" stroke="#333" stroke-width="1.1"/>
<text x="42.00" y="323.52" font-size="10.6" text-anchor="end">10</text>
<line x1="46.00" y1="277.34" x2="54.00" y2="277.34" stroke="#333" stroke-width="1.1"/>
<text x="42.00" y="281.24" font-size="10.6" text-anchor="end">20</text>
<line x1="46.00" y1="235.06" x2="54.00" y2="235.06" stroke="#333" stroke-width="1.1"/>
<text x="42.00" y="238.96" font-size="10.6" text-anchor="end">30</text>
<line x1="46.00" y1="192.78" x2="54.00" y2="192.78" stroke="#333" stroke-width="1.1"/>
<text x="42.00" y="196.68" font-size="10.6" text-anchor="end">40</text>
<line x1="46.00" y1="150.50" x2="54.00" y2="150.50" stroke="#333" stroke-width="1.1"/>
<text x="42.00" y="154.40" font-size="10.6" text-anchor="end">50</text>
<line x1="68.20" y1="370.20" x2="68.20" y2="377.80" stroke="#333" stroke-width="1.1"/>
<text x="68.20" y="391.50" font-size="10.6" text-anchor="middle">-6</text>
<line x1="97.00" y1="370.20" x2="97.00" y2="377.80" stroke="#333" stroke-width="1.1"/>
<text x="97.00" y="391.50" font-size="10.6" text-anchor="middle">-4</text>
<line x1="125.80" y1="370.20" x2="125.80" y2="377.80" stroke="#333" stroke-width="1.1"/>
<text x="125.80" y="391.50" font-size="10.6" text-anchor="middle">-2</text>
<line x1="154.60" y1="370.20" x2="154.60" y2="377.80" stroke="#333" stroke-width="2.0"/>
<text x="154.60" y="391.50" font-size="10.6" text-anchor="middle">0</text>
<line x1="183.40" y1="370.20" x2="183.40" y2="377.80" stroke="#333" stroke-width="1.1"/>
<text x="183.40" y="391.50" font-size="10.6" text-anchor="middle">2</text>
<line x1="212.20" y1="370.20" x2="212.20" y2="377.80" stroke="#333" stroke-width="1.1"/>
<text x="212.20" y="391.50" font-size="10.6" text-anchor="middle">4</text>
<line x1="241.00" y1="370.20" x2="241.00" y2="377.80" stroke="#333" stroke-width="1.1"/>
<text x="241.00" y="391.50" font-size="10.6" text-anchor="middle">6</text>
<text x="153.60" y="410.30" font-size="10.7" text-anchor="middle">Log2 fold change</text>
<text x="154.20" y="423.70" font-size="10.7" text-anchor="middle">(Tfdp1 KO vs Control)</text>
<text x="19.0" y="250.2" font-size="10.6" text-anchor="middle" transform="rotate(-90 19.0 250.2)">-Log10 (p-value)</text>
<text x="130.60" y="240.60" font-size="8.2" text-anchor="end" font-style="italic">Tfdp1</text>
<line x1="131.40" y1="238.30" x2="138.60" y2="240.50" stroke="#111" stroke-width="1.15"/>
<text x="398.70" y="21.10" font-size="9.9" text-anchor="middle">REACTOME pathway</text>
<text x="398.70" y="32.80" font-size="9.9" text-anchor="middle">enrichment in downregulated genes</text>
<line x1="354.40" y1="74.30" x2="450.20" y2="74.30" stroke="#a3a3a3" stroke-width="1.3"/>
<line x1="354.40" y1="99.80" x2="450.20" y2="99.80" stroke="#a3a3a3" stroke-width="1.3"/>
<line x1="354.40" y1="125.20" x2="450.20" y2="125.20" stroke="#a3a3a3" stroke-width="1.3"/>
<line x1="354.40" y1="150.60" x2="450.20" y2="150.60" stroke="#a3a3a3" stroke-width="1.3"/>
<line x1="354.40" y1="176.00" x2="450.20" y2="176.00" stroke="#a3a3a3" stroke-width="1.3"/>
<line x1="354.40" y1="201.40" x2="450.20" y2="201.40" stroke="#a3a3a3" stroke-width="1.3"/>
<line x1="354.40" y1="226.90" x2="450.20" y2="226.90" stroke="#a3a3a3" stroke-width="1.3"/>
<line x1="354.40" y1="252.30" x2="450.20" y2="252.30" stroke="#a3a3a3" stroke-width="1.3"/>
<line x1="354.40" y1="277.70" x2="450.20" y2="277.70" stroke="#a3a3a3" stroke-width="1.3"/>
<line x1="354.40" y1="303.10" x2="450.20" y2="303.10" stroke="#a3a3a3" stroke-width="1.3"/>
<path d="M349.0 49.2 H450.2 V328.5 M354.4 49.2 V328.5 H450.2" fill="none" stroke="#3a3a3a" stroke-width="1.15"/>
<circle cx="384.50" cy="74.30" r="4.50" fill="#9c6fa2" fill-opacity="0.82" stroke="#2a2a2a" stroke-width="0.9"/>
<circle cx="381.00" cy="99.80" r="4.10" fill="#8f6497" fill-opacity="0.82" stroke="#2a2a2a" stroke-width="0.9"/>
<circle cx="383.90" cy="125.20" r="4.00" fill="#c98fc0" fill-opacity="0.82" stroke="#2a2a2a" stroke-width="0.9"/>
<circle cx="391.50" cy="150.60" r="4.30" fill="#d49bc7" fill-opacity="0.82" stroke="#2a2a2a" stroke-width="0.9"/>
<circle cx="391.40" cy="176.00" r="4.30" fill="#d49bc7" fill-opacity="0.82" stroke="#2a2a2a" stroke-width="0.9"/>
<circle cx="394.20" cy="201.40" r="4.70" fill="#d8a2ca" fill-opacity="0.82" stroke="#2a2a2a" stroke-width="0.9"/>
<circle cx="408.60" cy="226.90" r="5.40" fill="#dba7cd" fill-opacity="0.82" stroke="#2a2a2a" stroke-width="0.9"/>
<circle cx="384.40" cy="252.30" r="4.20" fill="#dcabd0" fill-opacity="0.82" stroke="#2a2a2a" stroke-width="0.9"/>
<circle cx="392.60" cy="277.70" r="4.50" fill="#dcabd0" fill-opacity="0.82" stroke="#2a2a2a" stroke-width="0.9"/>
<circle cx="404.10" cy="303.10" r="5.00" fill="#dcabd0" fill-opacity="0.82" stroke="#2a2a2a" stroke-width="0.9"/>
<line x1="349.00" y1="74.30" x2="354.40" y2="74.30" stroke="#333" stroke-width="1.1"/>
<text x="344.80" y="73.80" font-size="7.75" text-anchor="end">Cell cycle,</text>
<text x="344.80" y="82.40" font-size="7.75" text-anchor="end">mitotic</text>
<text x="481.20" y="76.70" font-size="7.7" text-anchor="end">124/523</text>
<line x1="349.00" y1="99.80" x2="354.40" y2="99.80" stroke="#333" stroke-width="1.1"/>
<text x="345.00" y="101.40" font-size="7.75" text-anchor="end">Cell cycle</text>
<text x="481.20" y="102.20" font-size="7.7" text-anchor="end">136/654</text>
<line x1="349.00" y1="125.20" x2="354.40" y2="125.20" stroke="#333" stroke-width="1.1"/>
<text x="345.00" y="126.80" font-size="7.75" text-anchor="end">M phase</text>
<text x="481.20" y="127.60" font-size="7.7" text-anchor="end">88/380</text>
<line x1="349.00" y1="150.60" x2="354.40" y2="150.60" stroke="#333" stroke-width="1.1"/>
<text x="344.80" y="147.80" font-size="7.75" text-anchor="end">Mitotic metaphase</text>
<text x="344.80" y="156.40" font-size="7.75" text-anchor="end">and anaphase</text>
<text x="481.20" y="153.00" font-size="7.7" text-anchor="end">68/233</text>
<line x1="349.00" y1="176.00" x2="354.40" y2="176.00" stroke="#333" stroke-width="1.1"/>
<text x="345.00" y="177.60" font-size="7.75" text-anchor="end">Mitotic anaphase</text>
<text x="481.20" y="178.40" font-size="7.7" text-anchor="end">67/232</text>
<line x1="349.00" y1="201.40" x2="354.40" y2="201.40" stroke="#333" stroke-width="1.1"/>
<text x="345.00" y="203.00" font-size="7.75" text-anchor="end">Mitotic prometaphase</text>
<text x="481.20" y="203.80" font-size="7.7" text-anchor="end">58/186</text>
<line x1="349.00" y1="226.90" x2="354.40" y2="226.90" stroke="#333" stroke-width="1.1"/>
<text x="344.80" y="225.50" font-size="7.75" text-anchor="end">Resolution of sister</text>
<text x="344.80" y="234.10" font-size="7.75" text-anchor="end">chromatid cohesion</text>
<text x="481.20" y="229.30" font-size="7.7" text-anchor="end">45/106</text>
<line x1="349.00" y1="252.30" x2="354.40" y2="252.30" stroke="#333" stroke-width="1.1"/>
<text x="345.00" y="253.90" font-size="7.75" text-anchor="end">Cell cycle checkpoints</text>
<text x="481.20" y="254.70" font-size="7.7" text-anchor="end">64/271</text>
<line x1="349.00" y1="277.70" x2="354.40" y2="277.70" stroke="#333" stroke-width="1.1"/>
<text x="344.80" y="275.50" font-size="7.75" text-anchor="end">Separation of sister</text>
<text x="344.80" y="284.10" font-size="7.75" text-anchor="end">chromatids</text>
<text x="481.20" y="280.10" font-size="7.7" text-anchor="end">51/170</text>
<line x1="349.00" y1="303.10" x2="354.40" y2="303.10" stroke="#333" stroke-width="1.1"/>
<text x="344.80" y="300.60" font-size="7.75" text-anchor="end">Mitotic spindle</text>
<text x="344.80" y="309.20" font-size="7.75" text-anchor="end">checkpoint</text>
<text x="481.20" y="305.50" font-size="7.7" text-anchor="end">43/110</text>
<line x1="354.40" y1="328.50" x2="354.40" y2="332.90" stroke="#333" stroke-width="1.1"/>
<text x="354.40" y="343.30" font-size="9.2" text-anchor="middle">0</text>
<line x1="386.33" y1="328.50" x2="386.33" y2="332.90" stroke="#333" stroke-width="1.1"/>
<text x="386.33" y="343.30" font-size="9.2" text-anchor="middle">0.25</text>
<line x1="418.27" y1="328.50" x2="418.27" y2="332.90" stroke="#333" stroke-width="1.1"/>
<text x="418.27" y="343.30" font-size="9.2" text-anchor="middle">0.50</text>
<line x1="450.20" y1="328.50" x2="450.20" y2="332.90" stroke="#333" stroke-width="1.1"/>
<text x="450.20" y="343.30" font-size="9.2" text-anchor="middle">0.75</text>
<text x="402.90" y="356.20" font-size="7.8" text-anchor="middle">Enrichment ratio</text>
<text x="595.20" y="21.10" font-size="9.9" text-anchor="middle">ENCODE and ChEA TF</text>
<text x="595.20" y="32.80" font-size="9.9" text-anchor="middle">enrichment in downregulated genes</text>
<line x1="550.40" y1="73.60" x2="646.20" y2="73.60" stroke="#a3a3a3" stroke-width="1.3"/>
<line x1="550.40" y1="99.08" x2="646.20" y2="99.08" stroke="#a3a3a3" stroke-width="1.3"/>
<line x1="550.40" y1="124.56" x2="646.20" y2="124.56" stroke="#a3a3a3" stroke-width="1.3"/>
<line x1="550.40" y1="150.04" x2="646.20" y2="150.04" stroke="#a3a3a3" stroke-width="1.3"/>
<line x1="550.40" y1="175.52" x2="646.20" y2="175.52" stroke="#a3a3a3" stroke-width="1.3"/>
<line x1="550.40" y1="201.00" x2="646.20" y2="201.00" stroke="#a3a3a3" stroke-width="1.3"/>
<line x1="550.40" y1="226.48" x2="646.20" y2="226.48" stroke="#a3a3a3" stroke-width="1.3"/>
<line x1="550.40" y1="251.96" x2="646.20" y2="251.96" stroke="#a3a3a3" stroke-width="1.3"/>
<line x1="550.40" y1="277.44" x2="646.20" y2="277.44" stroke="#a3a3a3" stroke-width="1.3"/>
<line x1="550.40" y1="302.92" x2="646.20" y2="302.92" stroke="#a3a3a3" stroke-width="1.3"/>
<path d="M545.0 48.1 H646.2 V327.8 M550.4 48.1 V327.8 H646.2" fill="none" stroke="#3a3a3a" stroke-width="1.15"/>
<circle cx="584.80" cy="73.60" r="9.20" fill="#5b4787" fill-opacity="0.82" stroke="#2a2a2a" stroke-width="0.9"/>
<circle cx="633.50" cy="99.08" r="5.60" fill="#b47fb0" fill-opacity="0.82" stroke="#2a2a2a" stroke-width="0.9"/>
<circle cx="559.40" cy="124.56" r="10.60" fill="#cc8bb8" fill-opacity="0.82" stroke="#2a2a2a" stroke-width="0.9"/>
<circle cx="564.90" cy="150.04" r="7.60" fill="#d8a3cd" fill-opacity="0.82" stroke="#2a2a2a" stroke-width="0.9"/>
<circle cx="561.20" cy="175.52" r="8.90" fill="#d8a3cd" fill-opacity="0.82" stroke="#2a2a2a" stroke-width="0.9"/>
<circle cx="559.90" cy="201.00" r="9.50" fill="#d8a3cd" fill-opacity="0.82" stroke="#2a2a2a" stroke-width="0.9"/>
<circle cx="562.50" cy="226.48" r="8.40" fill="#d8a3cd" fill-opacity="0.82" stroke="#2a2a2a" stroke-width="0.9"/>
<circle cx="560.50" cy="251.96" r="8.70" fill="#d8a3cd" fill-opacity="0.82" stroke="#2a2a2a" stroke-width="0.9"/>
<circle cx="559.10" cy="277.44" r="9.50" fill="#d8a3cd" fill-opacity="0.82" stroke="#2a2a2a" stroke-width="0.9"/>
<circle cx="559.00" cy="302.92" r="9.80" fill="#d8a3cd" fill-opacity="0.82" stroke="#2a2a2a" stroke-width="0.9"/>
<line x1="545.00" y1="73.60" x2="550.40" y2="73.60" stroke="#333" stroke-width="1.1"/>
<text x="543.20" y="76.40" font-size="8.0" text-anchor="end">E2F4</text>
<text x="667.60" y="76.60" font-size="8.05" text-anchor="middle">192/710</text>
<line x1="545.00" y1="99.08" x2="550.40" y2="99.08" stroke="#333" stroke-width="1.1"/>
<text x="543.20" y="101.88" font-size="8.0" text-anchor="end">FOXM1</text>
<text x="667.60" y="102.08" font-size="8.05" text-anchor="middle">62/95</text>
<line x1="545.00" y1="124.56" x2="550.40" y2="124.56" stroke="#333" stroke-width="1.1"/>
<text x="543.20" y="127.36" font-size="8.0" text-anchor="end">NFYB</text>
<text x="667.60" y="127.56" font-size="8.05" text-anchor="middle">260/3715</text>
<line x1="545.00" y1="150.04" x2="550.40" y2="150.04" stroke="#333" stroke-width="1.1"/>
<text x="543.20" y="152.84" font-size="8.0" text-anchor="end">SIN3A</text>
<text x="667.60" y="153.04" font-size="8.05" text-anchor="middle">130/1131</text>
<line x1="545.00" y1="175.52" x2="550.40" y2="175.52" stroke="#333" stroke-width="1.1"/>
<text x="543.20" y="178.32" font-size="8.0" text-anchor="end">MAX</text>
<text x="667.60" y="178.52" font-size="8.05" text-anchor="middle">175/2073</text>
<line x1="545.00" y1="201.00" x2="550.40" y2="201.00" stroke="#333" stroke-width="1.1"/>
<text x="543.20" y="203.80" font-size="8.0" text-anchor="end">YY1</text>
<text x="667.60" y="204.00" font-size="8.05" text-anchor="middle">205/2753</text>
<line x1="545.00" y1="226.48" x2="550.40" y2="226.48" stroke="#333" stroke-width="1.1"/>
<text x="543.20" y="229.28" font-size="8.0" text-anchor="end">MYC</text>
<text x="667.60" y="229.48" font-size="8.05" text-anchor="middle">144/1515</text>
<line x1="545.00" y1="251.96" x2="550.40" y2="251.96" stroke="#333" stroke-width="1.1"/>
<text x="543.20" y="254.76" font-size="8.0" text-anchor="end">NFYA</text>
<text x="667.60" y="254.96" font-size="8.05" text-anchor="middle">179/2250</text>
<line x1="545.00" y1="277.44" x2="550.40" y2="277.44" stroke="#333" stroke-width="1.1"/>
<text x="543.20" y="280.24" font-size="8.0" text-anchor="end">E2F6</text>
<text x="667.60" y="280.44" font-size="8.05" text-anchor="middle">221/3245</text>
<line x1="545.00" y1="302.92" x2="550.40" y2="302.92" stroke="#333" stroke-width="1.1"/>
<text x="543.20" y="305.72" font-size="8.0" text-anchor="end">BRCA1</text>
<text x="667.60" y="305.92" font-size="8.05" text-anchor="middle">217/3218</text>
<line x1="550.40" y1="327.80" x2="550.40" y2="332.20" stroke="#333" stroke-width="1.1"/>
<text x="550.40" y="343.30" font-size="9.2" text-anchor="middle">0</text>
<line x1="582.33" y1="327.80" x2="582.33" y2="332.20" stroke="#333" stroke-width="1.1"/>
<text x="582.33" y="343.30" font-size="9.2" text-anchor="middle">0.25</text>
<line x1="614.27" y1="327.80" x2="614.27" y2="332.20" stroke="#333" stroke-width="1.1"/>
<text x="614.27" y="343.30" font-size="9.2" text-anchor="middle">0.50</text>
<line x1="646.20" y1="327.80" x2="646.20" y2="332.20" stroke="#333" stroke-width="1.1"/>
<text x="646.20" y="343.30" font-size="9.2" text-anchor="middle">0.75</text>
<text x="598.90" y="356.20" font-size="7.8" text-anchor="middle">Enrichment ratio</text>
<text x="419.40" y="380.00" font-size="8.7" text-anchor="middle">No. of genes</text>
<circle cx="390.7" cy="397.4" r="1.2" fill="#000"/>
<circle cx="413.7" cy="397.4" r="6.7" fill="#000"/>
<circle cx="442.8" cy="397.4" r="14.1" fill="#000"/>
<text x="391.20" y="423.30" font-size="10.0" text-anchor="middle">5</text>
<text x="413.60" y="423.30" font-size="10.0" text-anchor="middle">50</text>
<text x="446.10" y="423.30" font-size="10.0" text-anchor="middle">500</text>
<text x="526.00" y="380.00" font-size="8.6" text-anchor="middle">-Log10 (p-value)</text>
<defs><linearGradient id="cb" x1="0" x2="1" y1="0" y2="0"><stop offset="0" stop-color="#fcfafc"/><stop offset="0.08" stop-color="#f5eaf2"/><stop offset="0.25" stop-color="#e3bfda"/><stop offset="0.5" stop-color="#cb80ad"/><stop offset="0.75" stop-color="#8f5b91"/><stop offset="1" stop-color="#4b3a78"/></linearGradient></defs>
<rect x="486.9" y="388.4" width="95.2" height="20.8" fill="url(#cb)" stroke="#222" stroke-width="1.1"/>
<line x1="506.50" y1="388.40" x2="506.50" y2="393.70" stroke="#333" stroke-width="1.0"/>
<line x1="506.50" y1="404.10" x2="506.50" y2="409.20" stroke="#333" stroke-width="1.0"/>
<line x1="525.40" y1="388.40" x2="525.40" y2="393.70" stroke="#333" stroke-width="1.0"/>
<line x1="525.40" y1="404.10" x2="525.40" y2="409.20" stroke="#333" stroke-width="1.0"/>
<line x1="544.70" y1="388.40" x2="544.70" y2="393.70" stroke="#333" stroke-width="1.0"/>
<line x1="544.70" y1="404.10" x2="544.70" y2="409.20" stroke="#333" stroke-width="1.0"/>
<line x1="563.00" y1="388.40" x2="563.00" y2="393.70" stroke="#333" stroke-width="1.0"/>
<line x1="563.00" y1="404.10" x2="563.00" y2="409.20" stroke="#333" stroke-width="1.0"/>
<text x="507.30" y="423.20" font-size="9.0" text-anchor="middle">20</text>
<text x="525.00" y="423.20" font-size="9.0" text-anchor="middle">40</text>
<text x="545.00" y="423.20" font-size="9.0" text-anchor="middle">60</text>
<text x="563.50" y="423.20" font-size="9.0" text-anchor="middle">80</text>
<text x="582.80" y="423.20" font-size="9.0" text-anchor="middle">100</text>
</svg></body></html>
